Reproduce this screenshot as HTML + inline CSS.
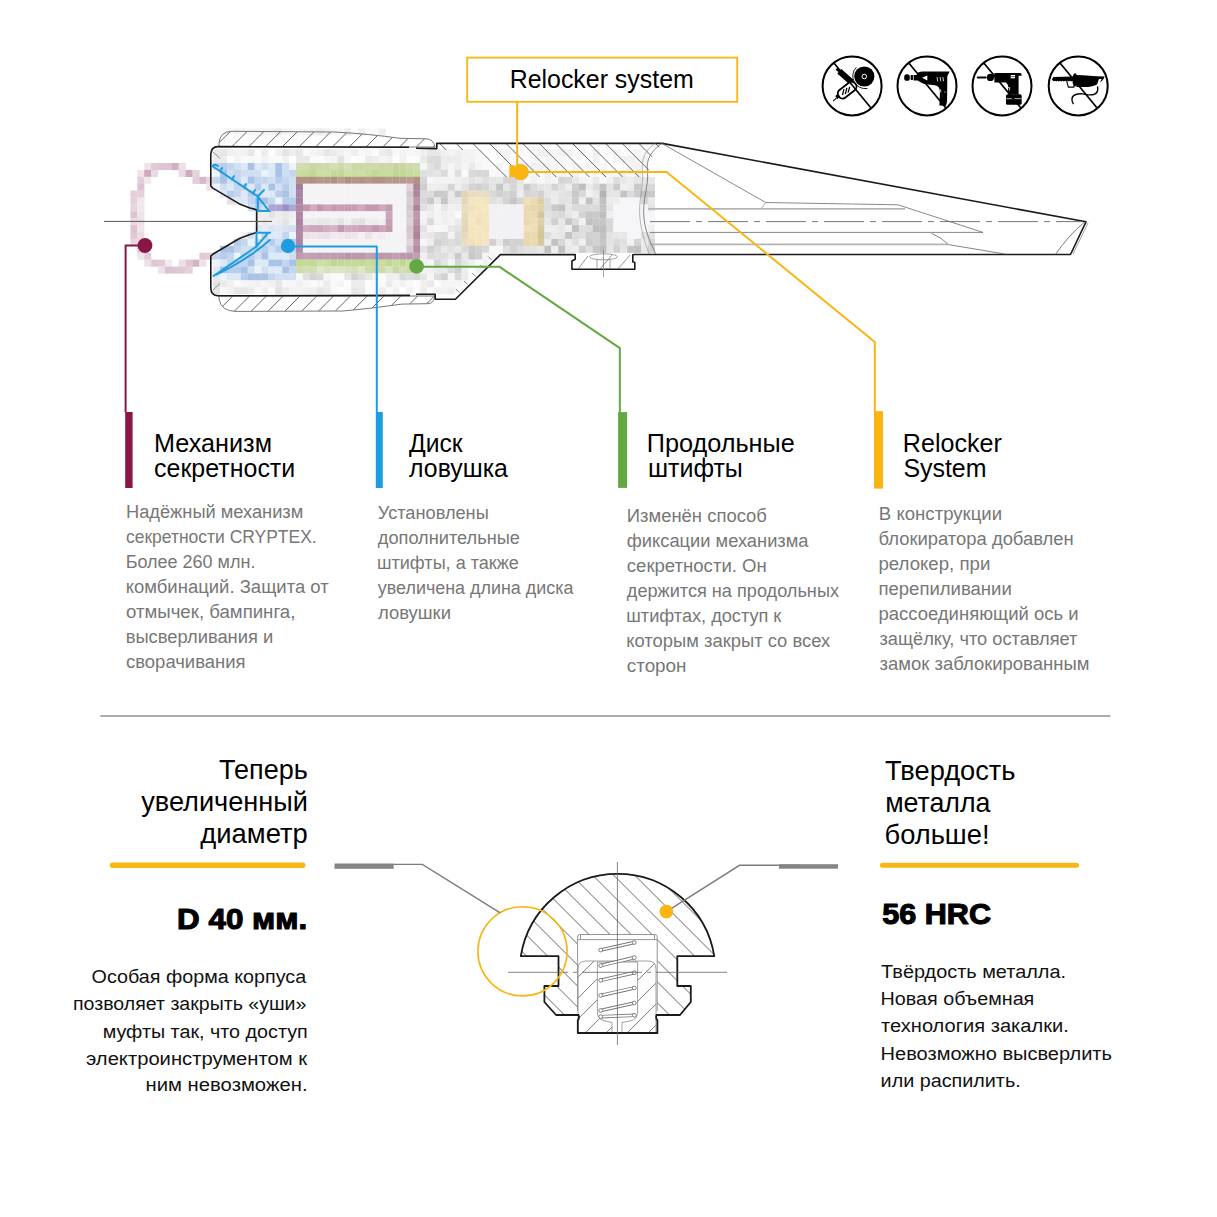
<!DOCTYPE html>
<html><head><meta charset="utf-8"><style>
html,body{margin:0;padding:0;background:#fff;}
#root{position:relative;width:1217px;height:1217px;overflow:hidden;background:#fff;}
svg{position:absolute;left:0;top:0;}
text{font-family:"Liberation Sans",sans-serif;}
</style></head><body><div id="root">
<svg width="1217" height="1217" viewBox="0 0 1217 1217">
<defs>
<clipPath id="capT"><path d="M219,147 L219,143 Q220,131.5 232,131.3 L335,132 Q370,134 400,138.3 L426,138.8 Q433.5,139 435,147 Z"/></clipPath>
<clipPath id="capB"><path d="M219,296 L219,299 Q221,311.3 236,311.4 L343,311 Q372,308.5 402,304.1 L428,303.7 Q433.5,303.6 435,296 Z"/></clipPath>
<clipPath id="rbH"><path d="M437,143.4 L662,143.4 L650,160 L648,177 L497,177 L470,150 L437,150 Z"/></clipPath>
<clipPath id="rbL"><path d="M436,294 L436,299.5 L455.5,299.5 L500.5,254.6 L470,254.6 L440,290 Z"/></clipPath>
</defs>
<g><rect x="213.2" y="149.2" width="7.1" height="7.1" fill="#e9e9ea"/><rect x="220.1" y="149.2" width="7.1" height="7.1" fill="#e6e6e7"/><rect x="227.0" y="149.2" width="7.1" height="7.1" fill="#f0f0f1"/><rect x="233.9" y="149.2" width="7.1" height="7.1" fill="#f3f3f4"/><rect x="240.8" y="149.2" width="7.1" height="7.1" fill="#f2f2f3"/><rect x="247.7" y="149.2" width="7.1" height="7.1" fill="#e7e7e8"/><rect x="254.6" y="149.2" width="7.1" height="7.1" fill="#fbfbfc"/><rect x="261.5" y="149.2" width="7.1" height="7.1" fill="#ececed"/><rect x="268.4" y="149.2" width="7.1" height="7.1" fill="#fdfdfe"/><rect x="275.3" y="149.2" width="7.1" height="7.1" fill="#f1f1f2"/><rect x="282.2" y="149.2" width="7.1" height="7.1" fill="#e5e5e6"/><rect x="289.1" y="149.2" width="7.1" height="7.1" fill="#eeeeef"/><rect x="296.0" y="149.2" width="7.1" height="7.1" fill="#e8e8e9"/><rect x="302.9" y="149.2" width="7.1" height="7.1" fill="#fafafb"/><rect x="309.8" y="149.2" width="7.1" height="7.1" fill="#f5f5f6"/><rect x="316.7" y="149.2" width="7.1" height="7.1" fill="#f0f0f1"/><rect x="323.6" y="149.2" width="7.1" height="7.1" fill="#e6e6e7"/><rect x="330.5" y="149.2" width="7.1" height="7.1" fill="#ebebec"/><rect x="337.4" y="149.2" width="7.1" height="7.1" fill="#f1f1f2"/><rect x="344.3" y="149.2" width="7.1" height="7.1" fill="#f5f5f6"/><rect x="351.2" y="149.2" width="7.1" height="7.1" fill="#eeeeef"/><rect x="358.1" y="149.2" width="7.1" height="7.1" fill="#f8f8f9"/><rect x="365.0" y="149.2" width="7.1" height="7.1" fill="#f5f5f6"/><rect x="371.9" y="149.2" width="7.1" height="7.1" fill="#fcfcfd"/><rect x="378.8" y="149.2" width="7.1" height="7.1" fill="#eeeeef"/><rect x="385.7" y="149.2" width="7.1" height="7.1" fill="#e8e8e9"/><rect x="392.6" y="149.2" width="7.1" height="7.1" fill="#f9f9fa"/><rect x="399.5" y="149.2" width="7.1" height="7.1" fill="#f3f3f4"/><rect x="406.4" y="149.2" width="7.1" height="7.1" fill="#f7f7f8"/><rect x="413.3" y="149.2" width="7.1" height="7.1" fill="#f5f5f6"/><rect x="420.2" y="149.2" width="7.1" height="7.1" fill="#f0f0f1"/><rect x="427.1" y="149.2" width="7.1" height="7.1" fill="#e7e7e8"/><rect x="434.0" y="149.2" width="7.1" height="7.1" fill="#e8e8e9"/><rect x="440.9" y="149.2" width="7.1" height="7.1" fill="#f0f0f1"/><rect x="447.8" y="149.2" width="7.1" height="7.1" fill="#f4f4f5"/><rect x="454.7" y="149.2" width="7.1" height="7.1" fill="#efeff0"/><rect x="461.6" y="149.2" width="7.1" height="7.1" fill="#f2f2f3"/><rect x="468.5" y="149.2" width="7.1" height="7.1" fill="#f4f4f5"/><rect x="475.4" y="149.2" width="7.1" height="7.1" fill="#f7f7f8"/><rect x="482.3" y="149.2" width="7.1" height="7.1" fill="#fcfcfd"/><rect x="489.2" y="149.2" width="7.1" height="7.1" fill="#fdfdfe"/><rect x="496.1" y="149.2" width="7.1" height="7.1" fill="#f4f4f5"/><rect x="503.0" y="149.2" width="7.1" height="7.1" fill="#f4f4f5"/><rect x="509.9" y="149.2" width="7.1" height="7.1" fill="#f9f9fa"/><rect x="516.8" y="149.2" width="7.1" height="7.1" fill="#f9f9fa"/><rect x="523.7" y="149.2" width="7.1" height="7.1" fill="#fbfbfc"/><rect x="530.6" y="149.2" width="7.1" height="7.1" fill="#f6f6f7"/><rect x="537.5" y="149.2" width="7.1" height="7.1" fill="#f0f0f1"/><rect x="544.4" y="149.2" width="7.1" height="7.1" fill="#f0f0f1"/><rect x="551.3" y="149.2" width="7.1" height="7.1" fill="#f6f6f7"/><rect x="558.2" y="149.2" width="7.1" height="7.1" fill="#f2f2f3"/><rect x="565.1" y="149.2" width="7.1" height="7.1" fill="#f2f2f3"/><rect x="572.0" y="149.2" width="7.1" height="7.1" fill="#f8f8f9"/><rect x="578.9" y="149.2" width="7.1" height="7.1" fill="#f4f4f5"/><rect x="585.8" y="149.2" width="7.1" height="7.1" fill="#fdfdfe"/><rect x="592.7" y="149.2" width="7.1" height="7.1" fill="#efeff0"/><rect x="599.6" y="149.2" width="7.1" height="7.1" fill="#fafafb"/><rect x="606.5" y="149.2" width="7.1" height="7.1" fill="#fbfbfc"/><rect x="613.4" y="149.2" width="7.1" height="7.1" fill="#f4f4f5"/><rect x="620.3" y="149.2" width="7.1" height="7.1" fill="#fcfcfd"/><rect x="627.2" y="149.2" width="7.1" height="7.1" fill="#f8f8f9"/><rect x="634.1" y="149.2" width="7.1" height="7.1" fill="#f5f5f6"/><rect x="641.0" y="149.2" width="7.1" height="7.1" fill="#f7f7f8"/><rect x="213.2" y="156.1" width="7.1" height="7.1" fill="#ececed"/><rect x="220.1" y="156.1" width="7.1" height="7.1" fill="#ebebec"/><rect x="227.0" y="156.1" width="7.1" height="7.1" fill="#fcfcfd"/><rect x="233.9" y="156.1" width="7.1" height="7.1" fill="#f3f3f4"/><rect x="240.8" y="156.1" width="7.1" height="7.1" fill="#fafafb"/><rect x="247.7" y="156.1" width="7.1" height="7.1" fill="#f7f7f8"/><rect x="254.6" y="156.1" width="7.1" height="7.1" fill="#fafafb"/><rect x="261.5" y="156.1" width="7.1" height="7.1" fill="#f3f3f4"/><rect x="268.4" y="156.1" width="7.1" height="7.1" fill="#fafafb"/><rect x="275.3" y="156.1" width="7.1" height="7.1" fill="#fafafb"/><rect x="282.2" y="156.1" width="7.1" height="7.1" fill="#f1f1f2"/><rect x="289.1" y="156.1" width="7.1" height="7.1" fill="#fdfdfe"/><rect x="296.0" y="156.1" width="7.1" height="7.1" fill="#eaeaeb"/><rect x="302.9" y="156.1" width="7.1" height="7.1" fill="#e9e9ea"/><rect x="309.8" y="156.1" width="7.1" height="7.1" fill="#fafafb"/><rect x="316.7" y="156.1" width="7.1" height="7.1" fill="#fbfbfc"/><rect x="323.6" y="156.1" width="7.1" height="7.1" fill="#f7f7f8"/><rect x="330.5" y="156.1" width="7.1" height="7.1" fill="#f4f4f5"/><rect x="337.4" y="156.1" width="7.1" height="7.1" fill="#e3e3e4"/><rect x="344.3" y="156.1" width="7.1" height="7.1" fill="#f7f7f8"/><rect x="351.2" y="156.1" width="7.1" height="7.1" fill="#fdfdfe"/><rect x="358.1" y="156.1" width="7.1" height="7.1" fill="#fbfbfc"/><rect x="365.0" y="156.1" width="7.1" height="7.1" fill="#ebebec"/><rect x="371.9" y="156.1" width="7.1" height="7.1" fill="#eeeeef"/><rect x="378.8" y="156.1" width="7.1" height="7.1" fill="#f5f5f6"/><rect x="385.7" y="156.1" width="7.1" height="7.1" fill="#f1f1f2"/><rect x="392.6" y="156.1" width="7.1" height="7.1" fill="#fcfcfd"/><rect x="399.5" y="156.1" width="7.1" height="7.1" fill="#f2f2f3"/><rect x="406.4" y="156.1" width="7.1" height="7.1" fill="#fcfcfd"/><rect x="413.3" y="156.1" width="7.1" height="7.1" fill="#fcfcfd"/><rect x="420.2" y="156.1" width="7.1" height="7.1" fill="#eaeaeb"/><rect x="427.1" y="156.1" width="7.1" height="7.1" fill="#dbdbdc"/><rect x="434.0" y="156.1" width="7.1" height="7.1" fill="#dbdbdc"/><rect x="440.9" y="156.1" width="7.1" height="7.1" fill="#ebebec"/><rect x="447.8" y="156.1" width="7.1" height="7.1" fill="#ebebec"/><rect x="454.7" y="156.1" width="7.1" height="7.1" fill="#ebebec"/><rect x="461.6" y="156.1" width="7.1" height="7.1" fill="#f3f3f4"/><rect x="468.5" y="156.1" width="7.1" height="7.1" fill="#f2f2f3"/><rect x="475.4" y="156.1" width="7.1" height="7.1" fill="#f8f8f9"/><rect x="482.3" y="156.1" width="7.1" height="7.1" fill="#f8f8f9"/><rect x="489.2" y="156.1" width="7.1" height="7.1" fill="#fdfdfe"/><rect x="496.1" y="156.1" width="7.1" height="7.1" fill="#fdfdfe"/><rect x="503.0" y="156.1" width="7.1" height="7.1" fill="#f7f7f8"/><rect x="509.9" y="156.1" width="7.1" height="7.1" fill="#fafafb"/><rect x="516.8" y="156.1" width="7.1" height="7.1" fill="#fbfbfc"/><rect x="523.7" y="156.1" width="7.1" height="7.1" fill="#fefeff"/><rect x="530.6" y="156.1" width="7.1" height="7.1" fill="#f8f8f9"/><rect x="537.5" y="156.1" width="7.1" height="7.1" fill="#f7f7f8"/><rect x="544.4" y="156.1" width="7.1" height="7.1" fill="#f5f5f6"/><rect x="551.3" y="156.1" width="7.1" height="7.1" fill="#f7f7f8"/><rect x="558.2" y="156.1" width="7.1" height="7.1" fill="#f8f8f9"/><rect x="565.1" y="156.1" width="7.1" height="7.1" fill="#fefeff"/><rect x="572.0" y="156.1" width="7.1" height="7.1" fill="#fbfbfc"/><rect x="578.9" y="156.1" width="7.1" height="7.1" fill="#fdfdfe"/><rect x="585.8" y="156.1" width="7.1" height="7.1" fill="#fdfdfe"/><rect x="592.7" y="156.1" width="7.1" height="7.1" fill="#f0f0f1"/><rect x="599.6" y="156.1" width="7.1" height="7.1" fill="#fdfdfe"/><rect x="606.5" y="156.1" width="7.1" height="7.1" fill="#fcfcfd"/><rect x="613.4" y="156.1" width="7.1" height="7.1" fill="#f6f6f7"/><rect x="620.3" y="156.1" width="7.1" height="7.1" fill="#f2f2f3"/><rect x="627.2" y="156.1" width="7.1" height="7.1" fill="#f2f2f3"/><rect x="634.1" y="156.1" width="7.1" height="7.1" fill="#f5f5f6"/><rect x="641.0" y="156.1" width="7.1" height="7.1" fill="#f3f3f4"/><rect x="144.2" y="163.0" width="7.1" height="7.1" fill="#efe2e9"/><rect x="151.1" y="163.0" width="7.1" height="7.1" fill="#e1c9d6"/><rect x="158.0" y="163.0" width="7.1" height="7.1" fill="#dfc6d4"/><rect x="164.9" y="163.0" width="7.1" height="7.1" fill="#dec5d3"/><rect x="171.8" y="163.0" width="7.1" height="7.1" fill="#d2aec2"/><rect x="178.7" y="163.0" width="7.1" height="7.1" fill="#eddfe6"/><rect x="213.2" y="163.0" width="7.1" height="7.1" fill="#c3d6ee"/><rect x="220.1" y="163.0" width="7.1" height="7.1" fill="#b6cdeb"/><rect x="227.0" y="163.0" width="7.1" height="7.1" fill="#c3d6ee"/><rect x="233.9" y="163.0" width="7.1" height="7.1" fill="#d0dff2"/><rect x="240.8" y="163.0" width="7.1" height="7.1" fill="#dee9f7"/><rect x="247.7" y="163.0" width="7.1" height="7.1" fill="#a8c3e6"/><rect x="254.6" y="163.0" width="7.1" height="7.1" fill="#dee9f7"/><rect x="261.5" y="163.0" width="7.1" height="7.1" fill="#d0dff2"/><rect x="268.4" y="163.0" width="7.1" height="7.1" fill="#dee9f7"/><rect x="275.3" y="163.0" width="7.1" height="7.1" fill="#a8c3e6"/><rect x="282.2" y="163.0" width="7.1" height="7.1" fill="#d0dff2"/><rect x="289.1" y="163.0" width="7.1" height="7.1" fill="#edf3fb"/><rect x="296.0" y="163.0" width="7.1" height="7.1" fill="#d4dcb4"/><rect x="302.9" y="163.0" width="7.1" height="7.1" fill="#d1dbb0"/><rect x="309.8" y="163.0" width="7.1" height="7.1" fill="#cbd6a6"/><rect x="316.7" y="163.0" width="7.1" height="7.1" fill="#ced9ab"/><rect x="323.6" y="163.0" width="7.1" height="7.1" fill="#ced8ab"/><rect x="330.5" y="163.0" width="7.1" height="7.1" fill="#d5deb7"/><rect x="337.4" y="163.0" width="7.1" height="7.1" fill="#d0d9ad"/><rect x="344.3" y="163.0" width="7.1" height="7.1" fill="#d6deb7"/><rect x="351.2" y="163.0" width="7.1" height="7.1" fill="#cdd8a9"/><rect x="358.1" y="163.0" width="7.1" height="7.1" fill="#cdd8a9"/><rect x="365.0" y="163.0" width="7.1" height="7.1" fill="#cfd9ac"/><rect x="371.9" y="163.0" width="7.1" height="7.1" fill="#cfd9ac"/><rect x="378.8" y="163.0" width="7.1" height="7.1" fill="#ccd7a6"/><rect x="385.7" y="163.0" width="7.1" height="7.1" fill="#ced8aa"/><rect x="392.6" y="163.0" width="7.1" height="7.1" fill="#c8d4a1"/><rect x="399.5" y="163.0" width="7.1" height="7.1" fill="#cbd6a6"/><rect x="406.4" y="163.0" width="7.1" height="7.1" fill="#cfd9ad"/><rect x="413.3" y="163.0" width="7.1" height="7.1" fill="#d1dbb0"/><rect x="420.2" y="163.0" width="7.1" height="7.1" fill="#f6f6f7"/><rect x="427.1" y="163.0" width="7.1" height="7.1" fill="#e2e2e3"/><rect x="434.0" y="163.0" width="7.1" height="7.1" fill="#dadadb"/><rect x="440.9" y="163.0" width="7.1" height="7.1" fill="#eeeeef"/><rect x="447.8" y="163.0" width="7.1" height="7.1" fill="#f5f5f6"/><rect x="454.7" y="163.0" width="7.1" height="7.1" fill="#eeeeef"/><rect x="461.6" y="163.0" width="7.1" height="7.1" fill="#f4f4f5"/><rect x="468.5" y="163.0" width="7.1" height="7.1" fill="#eaeaeb"/><rect x="475.4" y="163.0" width="7.1" height="7.1" fill="#f5f5f6"/><rect x="482.3" y="163.0" width="7.1" height="7.1" fill="#f9f9fa"/><rect x="489.2" y="163.0" width="7.1" height="7.1" fill="#fafafb"/><rect x="496.1" y="163.0" width="7.1" height="7.1" fill="#f2f2f3"/><rect x="503.0" y="163.0" width="7.1" height="7.1" fill="#fcfcfd"/><rect x="509.9" y="163.0" width="7.1" height="7.1" fill="#fafafb"/><rect x="516.8" y="163.0" width="7.1" height="7.1" fill="#eeeeef"/><rect x="523.7" y="163.0" width="7.1" height="7.1" fill="#f8f8f9"/><rect x="530.6" y="163.0" width="7.1" height="7.1" fill="#f0f0f1"/><rect x="537.5" y="163.0" width="7.1" height="7.1" fill="#f1f1f2"/><rect x="544.4" y="163.0" width="7.1" height="7.1" fill="#f3f3f4"/><rect x="551.3" y="163.0" width="7.1" height="7.1" fill="#f8f8f9"/><rect x="558.2" y="163.0" width="7.1" height="7.1" fill="#fafafb"/><rect x="565.1" y="163.0" width="7.1" height="7.1" fill="#fafafb"/><rect x="572.0" y="163.0" width="7.1" height="7.1" fill="#f4f4f5"/><rect x="578.9" y="163.0" width="7.1" height="7.1" fill="#f9f9fa"/><rect x="585.8" y="163.0" width="7.1" height="7.1" fill="#f4f4f5"/><rect x="592.7" y="163.0" width="7.1" height="7.1" fill="#fafafb"/><rect x="599.6" y="163.0" width="7.1" height="7.1" fill="#f7f7f8"/><rect x="606.5" y="163.0" width="7.1" height="7.1" fill="#fdfdfe"/><rect x="613.4" y="163.0" width="7.1" height="7.1" fill="#fdfdfe"/><rect x="620.3" y="163.0" width="7.1" height="7.1" fill="#fcfcfd"/><rect x="627.2" y="163.0" width="7.1" height="7.1" fill="#f4f4f5"/><rect x="634.1" y="163.0" width="7.1" height="7.1" fill="#f3f3f4"/><rect x="641.0" y="163.0" width="7.1" height="7.1" fill="#f8f8f9"/><rect x="137.3" y="169.9" width="7.1" height="7.1" fill="#f0e3ea"/><rect x="144.2" y="169.9" width="7.1" height="7.1" fill="#cfa9be"/><rect x="151.1" y="169.9" width="7.1" height="7.1" fill="#ead9e2"/><rect x="178.7" y="169.9" width="7.1" height="7.1" fill="#ead9e2"/><rect x="185.6" y="169.9" width="7.1" height="7.1" fill="#cfaabe"/><rect x="192.5" y="169.9" width="7.1" height="7.1" fill="#e6d2dd"/><rect x="213.2" y="169.9" width="7.1" height="7.1" fill="#edf3fb"/><rect x="220.1" y="169.9" width="7.1" height="7.1" fill="#a8c3e6"/><rect x="227.0" y="169.9" width="7.1" height="7.1" fill="#d0dff2"/><rect x="233.9" y="169.9" width="7.1" height="7.1" fill="#c3d6ee"/><rect x="240.8" y="169.9" width="7.1" height="7.1" fill="#d0dff2"/><rect x="247.7" y="169.9" width="7.1" height="7.1" fill="#d0dff2"/><rect x="254.6" y="169.9" width="7.1" height="7.1" fill="#d0dff2"/><rect x="261.5" y="169.9" width="7.1" height="7.1" fill="#edf3fb"/><rect x="268.4" y="169.9" width="7.1" height="7.1" fill="#dee9f7"/><rect x="275.3" y="169.9" width="7.1" height="7.1" fill="#a8c3e6"/><rect x="282.2" y="169.9" width="7.1" height="7.1" fill="#d0dff2"/><rect x="289.1" y="169.9" width="7.1" height="7.1" fill="#c3d6ee"/><rect x="296.0" y="169.9" width="7.1" height="7.1" fill="#c8dd9e"/><rect x="302.9" y="169.9" width="7.1" height="7.1" fill="#c6db9b"/><rect x="309.8" y="169.9" width="7.1" height="7.1" fill="#c1d893"/><rect x="316.7" y="169.9" width="7.1" height="7.1" fill="#ccdfa3"/><rect x="323.6" y="169.9" width="7.1" height="7.1" fill="#cddfa5"/><rect x="330.5" y="169.9" width="7.1" height="7.1" fill="#c4da97"/><rect x="337.4" y="169.9" width="7.1" height="7.1" fill="#c3da96"/><rect x="344.3" y="169.9" width="7.1" height="7.1" fill="#cde0a5"/><rect x="351.2" y="169.9" width="7.1" height="7.1" fill="#cbdea2"/><rect x="358.1" y="169.9" width="7.1" height="7.1" fill="#cddfa4"/><rect x="365.0" y="169.9" width="7.1" height="7.1" fill="#c8dc9d"/><rect x="371.9" y="169.9" width="7.1" height="7.1" fill="#c1d893"/><rect x="378.8" y="169.9" width="7.1" height="7.1" fill="#c6dc9b"/><rect x="385.7" y="169.9" width="7.1" height="7.1" fill="#c9dd9f"/><rect x="392.6" y="169.9" width="7.1" height="7.1" fill="#c1d893"/><rect x="399.5" y="169.9" width="7.1" height="7.1" fill="#c2d995"/><rect x="406.4" y="169.9" width="7.1" height="7.1" fill="#c5db99"/><rect x="413.3" y="169.9" width="7.1" height="7.1" fill="#cadea1"/><rect x="420.2" y="169.9" width="7.1" height="7.1" fill="#dfdfe0"/><rect x="427.1" y="169.9" width="7.1" height="7.1" fill="#e1e1e2"/><rect x="434.0" y="169.9" width="7.1" height="7.1" fill="#e5e5e6"/><rect x="440.9" y="169.9" width="7.1" height="7.1" fill="#dadadb"/><rect x="447.8" y="169.9" width="7.1" height="7.1" fill="#f7f7f8"/><rect x="454.7" y="169.9" width="7.1" height="7.1" fill="#ddddde"/><rect x="461.6" y="169.9" width="7.1" height="7.1" fill="#fafafb"/><rect x="468.5" y="169.9" width="7.1" height="7.1" fill="#d9d9da"/><rect x="475.4" y="169.9" width="7.1" height="7.1" fill="#d6d6d7"/><rect x="482.3" y="169.9" width="7.1" height="7.1" fill="#d6d6d7"/><rect x="489.2" y="169.9" width="7.1" height="7.1" fill="#f9f9fa"/><rect x="496.1" y="169.9" width="7.1" height="7.1" fill="#f7f7f8"/><rect x="503.0" y="169.9" width="7.1" height="7.1" fill="#f6f6f7"/><rect x="509.9" y="169.9" width="7.1" height="7.1" fill="#f5f5f6"/><rect x="516.8" y="169.9" width="7.1" height="7.1" fill="#f8f8f9"/><rect x="523.7" y="169.9" width="7.1" height="7.1" fill="#f3f3f4"/><rect x="530.6" y="169.9" width="7.1" height="7.1" fill="#f6f6f7"/><rect x="537.5" y="169.9" width="7.1" height="7.1" fill="#fcfcfd"/><rect x="544.4" y="169.9" width="7.1" height="7.1" fill="#efeff0"/><rect x="551.3" y="169.9" width="7.1" height="7.1" fill="#f7f7f8"/><rect x="558.2" y="169.9" width="7.1" height="7.1" fill="#f6f6f7"/><rect x="565.1" y="169.9" width="7.1" height="7.1" fill="#fcfcfd"/><rect x="572.0" y="169.9" width="7.1" height="7.1" fill="#f1f1f2"/><rect x="578.9" y="169.9" width="7.1" height="7.1" fill="#fafafb"/><rect x="585.8" y="169.9" width="7.1" height="7.1" fill="#fafafb"/><rect x="592.7" y="169.9" width="7.1" height="7.1" fill="#f9f9fa"/><rect x="599.6" y="169.9" width="7.1" height="7.1" fill="#f4f4f5"/><rect x="606.5" y="169.9" width="7.1" height="7.1" fill="#f5f5f6"/><rect x="613.4" y="169.9" width="7.1" height="7.1" fill="#fafafb"/><rect x="620.3" y="169.9" width="7.1" height="7.1" fill="#f0f0f1"/><rect x="627.2" y="169.9" width="7.1" height="7.1" fill="#f6f6f7"/><rect x="634.1" y="169.9" width="7.1" height="7.1" fill="#efeff0"/><rect x="641.0" y="169.9" width="7.1" height="7.1" fill="#fefeff"/><rect x="137.3" y="176.8" width="7.1" height="7.1" fill="#e3cdd9"/><rect x="144.2" y="176.8" width="7.1" height="7.1" fill="#f2e8ed"/><rect x="192.5" y="176.8" width="7.1" height="7.1" fill="#e3ceda"/><rect x="199.4" y="176.8" width="7.1" height="7.1" fill="#d7b7c9"/><rect x="206.3" y="176.8" width="7.1" height="7.1" fill="#e6d3dd"/><rect x="213.2" y="176.8" width="7.1" height="7.1" fill="#c3d6ee"/><rect x="220.1" y="176.8" width="7.1" height="7.1" fill="#a8c3e6"/><rect x="227.0" y="176.8" width="7.1" height="7.1" fill="#d0dff2"/><rect x="233.9" y="176.8" width="7.1" height="7.1" fill="#c3d6ee"/><rect x="240.8" y="176.8" width="7.1" height="7.1" fill="#dee9f7"/><rect x="247.7" y="176.8" width="7.1" height="7.1" fill="#a8c3e6"/><rect x="254.6" y="176.8" width="7.1" height="7.1" fill="#c3d6ee"/><rect x="261.5" y="176.8" width="7.1" height="7.1" fill="#c3d6ee"/><rect x="268.4" y="176.8" width="7.1" height="7.1" fill="#d0dff2"/><rect x="275.3" y="176.8" width="7.1" height="7.1" fill="#b6cdeb"/><rect x="282.2" y="176.8" width="7.1" height="7.1" fill="#c3d6ee"/><rect x="289.1" y="176.8" width="7.1" height="7.1" fill="#d0dff2"/><rect x="296.0" y="176.8" width="7.1" height="7.1" fill="#b29285"/><rect x="302.9" y="176.8" width="7.1" height="7.1" fill="#b39386"/><rect x="309.8" y="176.8" width="7.1" height="7.1" fill="#b19184"/><rect x="316.7" y="176.8" width="7.1" height="7.1" fill="#b6978b"/><rect x="323.6" y="176.8" width="7.1" height="7.1" fill="#b59689"/><rect x="330.5" y="176.8" width="7.1" height="7.1" fill="#b19183"/><rect x="337.4" y="176.8" width="7.1" height="7.1" fill="#b99b8f"/><rect x="344.3" y="176.8" width="7.1" height="7.1" fill="#b09082"/><rect x="351.2" y="176.8" width="7.1" height="7.1" fill="#b49588"/><rect x="358.1" y="176.8" width="7.1" height="7.1" fill="#b29285"/><rect x="365.0" y="176.8" width="7.1" height="7.1" fill="#b7998c"/><rect x="371.9" y="176.8" width="7.1" height="7.1" fill="#b19184"/><rect x="378.8" y="176.8" width="7.1" height="7.1" fill="#b29284"/><rect x="385.7" y="176.8" width="7.1" height="7.1" fill="#b7988b"/><rect x="392.6" y="176.8" width="7.1" height="7.1" fill="#b59689"/><rect x="399.5" y="176.8" width="7.1" height="7.1" fill="#b7998c"/><rect x="406.4" y="176.8" width="7.1" height="7.1" fill="#ba9c90"/><rect x="413.3" y="176.8" width="7.1" height="7.1" fill="#b19184"/><rect x="420.2" y="176.8" width="7.1" height="7.1" fill="#d6d6d7"/><rect x="427.1" y="176.8" width="7.1" height="7.1" fill="#f6f6f7"/><rect x="434.0" y="176.8" width="7.1" height="7.1" fill="#f2f2f3"/><rect x="440.9" y="176.8" width="7.1" height="7.1" fill="#f3f3f4"/><rect x="447.8" y="176.8" width="7.1" height="7.1" fill="#f4f4f5"/><rect x="454.7" y="176.8" width="7.1" height="7.1" fill="#f0f0f1"/><rect x="461.6" y="176.8" width="7.1" height="7.1" fill="#ebebec"/><rect x="468.5" y="176.8" width="7.1" height="7.1" fill="#e2e2e3"/><rect x="475.4" y="176.8" width="7.1" height="7.1" fill="#e8e8e9"/><rect x="482.3" y="176.8" width="7.1" height="7.1" fill="#dfdfe0"/><rect x="489.2" y="176.8" width="7.1" height="7.1" fill="#e5e5e6"/><rect x="496.1" y="176.8" width="7.1" height="7.1" fill="#e8e8e9"/><rect x="503.0" y="176.8" width="7.1" height="7.1" fill="#d4d4d5"/><rect x="509.9" y="176.8" width="7.1" height="7.1" fill="#d4d4d5"/><rect x="516.8" y="176.8" width="7.1" height="7.1" fill="#e4e4e5"/><rect x="523.7" y="176.8" width="7.1" height="7.1" fill="#f9f9fa"/><rect x="530.6" y="176.8" width="7.1" height="7.1" fill="#f2f2f3"/><rect x="537.5" y="176.8" width="7.1" height="7.1" fill="#f8f8f9"/><rect x="544.4" y="176.8" width="7.1" height="7.1" fill="#f1f1f2"/><rect x="551.3" y="176.8" width="7.1" height="7.1" fill="#f4f4f5"/><rect x="558.2" y="176.8" width="7.1" height="7.1" fill="#d5d5d6"/><rect x="565.1" y="176.8" width="7.1" height="7.1" fill="#d7d7d8"/><rect x="572.0" y="176.8" width="7.1" height="7.1" fill="#e8e8e9"/><rect x="578.9" y="176.8" width="7.1" height="7.1" fill="#f3f3f4"/><rect x="585.8" y="176.8" width="7.1" height="7.1" fill="#f4f4f5"/><rect x="592.7" y="176.8" width="7.1" height="7.1" fill="#e9e9ea"/><rect x="599.6" y="176.8" width="7.1" height="7.1" fill="#f8f8f9"/><rect x="606.5" y="176.8" width="7.1" height="7.1" fill="#f0f0f1"/><rect x="613.4" y="176.8" width="7.1" height="7.1" fill="#dededf"/><rect x="620.3" y="176.8" width="7.1" height="7.1" fill="#e8e8e9"/><rect x="627.2" y="176.8" width="7.1" height="7.1" fill="#ededee"/><rect x="634.1" y="176.8" width="7.1" height="7.1" fill="#e5e5e6"/><rect x="641.0" y="176.8" width="7.1" height="7.1" fill="#e5e5e6"/><rect x="647.9" y="176.8" width="7.1" height="7.1" fill="#e8e8e9"/><rect x="137.3" y="183.7" width="7.1" height="7.1" fill="#ddc2d1"/><rect x="206.3" y="183.7" width="7.1" height="7.1" fill="#f0e4ea"/><rect x="213.2" y="183.7" width="7.1" height="7.1" fill="#edf3fb"/><rect x="220.1" y="183.7" width="7.1" height="7.1" fill="#d0dff2"/><rect x="227.0" y="183.7" width="7.1" height="7.1" fill="#dee9f7"/><rect x="233.9" y="183.7" width="7.1" height="7.1" fill="#c3d6ee"/><rect x="240.8" y="183.7" width="7.1" height="7.1" fill="#c3d6ee"/><rect x="247.7" y="183.7" width="7.1" height="7.1" fill="#dee9f7"/><rect x="254.6" y="183.7" width="7.1" height="7.1" fill="#b6cdeb"/><rect x="261.5" y="183.7" width="7.1" height="7.1" fill="#dee9f7"/><rect x="268.4" y="183.7" width="7.1" height="7.1" fill="#a8c3e6"/><rect x="275.3" y="183.7" width="7.1" height="7.1" fill="#d0dff2"/><rect x="282.2" y="183.7" width="7.1" height="7.1" fill="#b6cdeb"/><rect x="289.1" y="183.7" width="7.1" height="7.1" fill="#d0dff2"/><rect x="296.0" y="183.7" width="7.1" height="7.1" fill="#a47c9f"/><rect x="302.9" y="183.7" width="7.1" height="7.1" fill="#f4f4f7"/><rect x="309.8" y="183.7" width="7.1" height="7.1" fill="#f4f4f7"/><rect x="316.7" y="183.7" width="7.1" height="7.1" fill="#f4f4f7"/><rect x="323.6" y="183.7" width="7.1" height="7.1" fill="#f4f4f7"/><rect x="330.5" y="183.7" width="7.1" height="7.1" fill="#f4f4f7"/><rect x="337.4" y="183.7" width="7.1" height="7.1" fill="#f4f4f7"/><rect x="344.3" y="183.7" width="7.1" height="7.1" fill="#f4f4f7"/><rect x="351.2" y="183.7" width="7.1" height="7.1" fill="#f4f4f7"/><rect x="358.1" y="183.7" width="7.1" height="7.1" fill="#f4f4f7"/><rect x="365.0" y="183.7" width="7.1" height="7.1" fill="#f4f4f7"/><rect x="371.9" y="183.7" width="7.1" height="7.1" fill="#f4f4f7"/><rect x="378.8" y="183.7" width="7.1" height="7.1" fill="#f4f4f7"/><rect x="385.7" y="183.7" width="7.1" height="7.1" fill="#f4f4f7"/><rect x="392.6" y="183.7" width="7.1" height="7.1" fill="#f4f4f7"/><rect x="399.5" y="183.7" width="7.1" height="7.1" fill="#f4f4f7"/><rect x="406.4" y="183.7" width="7.1" height="7.1" fill="#e0d3db"/><rect x="413.3" y="183.7" width="7.1" height="7.1" fill="#ad8599"/><rect x="420.2" y="183.7" width="7.1" height="7.1" fill="#cececf"/><rect x="427.1" y="183.7" width="7.1" height="7.1" fill="#efeff0"/><rect x="434.0" y="183.7" width="7.1" height="7.1" fill="#eeeeef"/><rect x="440.9" y="183.7" width="7.1" height="7.1" fill="#ececed"/><rect x="447.8" y="183.7" width="7.1" height="7.1" fill="#d5d5d6"/><rect x="454.7" y="183.7" width="7.1" height="7.1" fill="#eeeeef"/><rect x="461.6" y="183.7" width="7.1" height="7.1" fill="#e3e3e4"/><rect x="468.5" y="183.7" width="7.1" height="7.1" fill="#d3d3d4"/><rect x="475.4" y="183.7" width="7.1" height="7.1" fill="#cfcfd0"/><rect x="482.3" y="183.7" width="7.1" height="7.1" fill="#d5d5d6"/><rect x="489.2" y="183.7" width="7.1" height="7.1" fill="#e5e5e6"/><rect x="496.1" y="183.7" width="7.1" height="7.1" fill="#c6c6c7"/><rect x="503.0" y="183.7" width="7.1" height="7.1" fill="#e6e6e7"/><rect x="509.9" y="183.7" width="7.1" height="7.1" fill="#d7d7d8"/><rect x="516.8" y="183.7" width="7.1" height="7.1" fill="#e9e9ea"/><rect x="523.7" y="183.7" width="7.1" height="7.1" fill="#cacacb"/><rect x="530.6" y="183.7" width="7.1" height="7.1" fill="#dbdbdc"/><rect x="537.5" y="183.7" width="7.1" height="7.1" fill="#e4e4e5"/><rect x="544.4" y="183.7" width="7.1" height="7.1" fill="#e6e6e7"/><rect x="551.3" y="183.7" width="7.1" height="7.1" fill="#d5d5d6"/><rect x="558.2" y="183.7" width="7.1" height="7.1" fill="#e1e1e2"/><rect x="565.1" y="183.7" width="7.1" height="7.1" fill="#ededee"/><rect x="572.0" y="183.7" width="7.1" height="7.1" fill="#cfcfd0"/><rect x="578.9" y="183.7" width="7.1" height="7.1" fill="#bfbfc0"/><rect x="585.8" y="183.7" width="7.1" height="7.1" fill="#ebebec"/><rect x="592.7" y="183.7" width="7.1" height="7.1" fill="#dcdcdd"/><rect x="599.6" y="183.7" width="7.1" height="7.1" fill="#c2c2c3"/><rect x="606.5" y="183.7" width="7.1" height="7.1" fill="#e3e3e4"/><rect x="613.4" y="183.7" width="7.1" height="7.1" fill="#cccccd"/><rect x="620.3" y="183.7" width="7.1" height="7.1" fill="#efeff0"/><rect x="627.2" y="183.7" width="7.1" height="7.1" fill="#ebebec"/><rect x="634.1" y="183.7" width="7.1" height="7.1" fill="#cacacb"/><rect x="641.0" y="183.7" width="7.1" height="7.1" fill="#ddddde"/><rect x="647.9" y="183.7" width="7.1" height="7.1" fill="#d9d9da"/><rect x="130.4" y="190.6" width="7.1" height="7.1" fill="#e4ceda"/><rect x="137.3" y="190.6" width="7.1" height="7.1" fill="#e5d1dc"/><rect x="220.1" y="190.6" width="7.1" height="7.1" fill="#dee9f7"/><rect x="227.0" y="190.6" width="7.1" height="7.1" fill="#b6cdeb"/><rect x="233.9" y="190.6" width="7.1" height="7.1" fill="#c3d6ee"/><rect x="240.8" y="190.6" width="7.1" height="7.1" fill="#dee9f7"/><rect x="247.7" y="190.6" width="7.1" height="7.1" fill="#b6cdeb"/><rect x="254.6" y="190.6" width="7.1" height="7.1" fill="#d0dff2"/><rect x="261.5" y="190.6" width="7.1" height="7.1" fill="#dee9f7"/><rect x="268.4" y="190.6" width="7.1" height="7.1" fill="#dee9f7"/><rect x="275.3" y="190.6" width="7.1" height="7.1" fill="#b6cdeb"/><rect x="282.2" y="190.6" width="7.1" height="7.1" fill="#a8c3e6"/><rect x="289.1" y="190.6" width="7.1" height="7.1" fill="#d0dff2"/><rect x="296.0" y="190.6" width="7.1" height="7.1" fill="#ab84a4"/><rect x="302.9" y="190.6" width="7.1" height="7.1" fill="#f4f4f7"/><rect x="309.8" y="190.6" width="7.1" height="7.1" fill="#f4f4f7"/><rect x="316.7" y="190.6" width="7.1" height="7.1" fill="#f4f4f7"/><rect x="323.6" y="190.6" width="7.1" height="7.1" fill="#f4f4f7"/><rect x="330.5" y="190.6" width="7.1" height="7.1" fill="#f4f4f7"/><rect x="337.4" y="190.6" width="7.1" height="7.1" fill="#f4f4f7"/><rect x="344.3" y="190.6" width="7.1" height="7.1" fill="#f4f4f7"/><rect x="351.2" y="190.6" width="7.1" height="7.1" fill="#f4f4f7"/><rect x="358.1" y="190.6" width="7.1" height="7.1" fill="#f4f4f7"/><rect x="365.0" y="190.6" width="7.1" height="7.1" fill="#f4f4f7"/><rect x="371.9" y="190.6" width="7.1" height="7.1" fill="#f4f4f7"/><rect x="378.8" y="190.6" width="7.1" height="7.1" fill="#f4f4f7"/><rect x="385.7" y="190.6" width="7.1" height="7.1" fill="#f4f4f7"/><rect x="392.6" y="190.6" width="7.1" height="7.1" fill="#f4f4f7"/><rect x="399.5" y="190.6" width="7.1" height="7.1" fill="#f4f4f7"/><rect x="406.4" y="190.6" width="7.1" height="7.1" fill="#d7c7d1"/><rect x="413.3" y="190.6" width="7.1" height="7.1" fill="#ae879a"/><rect x="420.2" y="190.6" width="7.1" height="7.1" fill="#dcdcdd"/><rect x="427.1" y="190.6" width="7.1" height="7.1" fill="#ddddde"/><rect x="434.0" y="190.6" width="7.1" height="7.1" fill="#c9c9ca"/><rect x="440.9" y="190.6" width="7.1" height="7.1" fill="#cccccd"/><rect x="447.8" y="190.6" width="7.1" height="7.1" fill="#e9e9ea"/><rect x="454.7" y="190.6" width="7.1" height="7.1" fill="#cacacb"/><rect x="461.6" y="190.6" width="7.1" height="7.1" fill="#e3d5b6"/><rect x="468.5" y="190.6" width="7.1" height="7.1" fill="#e9dcc1"/><rect x="475.4" y="190.6" width="7.1" height="7.1" fill="#eadec3"/><rect x="482.3" y="190.6" width="7.1" height="7.1" fill="#e9ddc3"/><rect x="489.2" y="190.6" width="7.1" height="7.1" fill="#d9d9da"/><rect x="496.1" y="190.6" width="7.1" height="7.1" fill="#d0d0d1"/><rect x="503.0" y="190.6" width="7.1" height="7.1" fill="#d6d6d7"/><rect x="509.9" y="190.6" width="7.1" height="7.1" fill="#cfcfd0"/><rect x="516.8" y="190.6" width="7.1" height="7.1" fill="#eeeeef"/><rect x="523.7" y="190.6" width="7.1" height="7.1" fill="#d5d5d6"/><rect x="530.6" y="190.6" width="7.1" height="7.1" fill="#d8d8d9"/><rect x="537.5" y="190.6" width="7.1" height="7.1" fill="#d1d1d2"/><rect x="544.4" y="190.6" width="7.1" height="7.1" fill="#e6e6e7"/><rect x="551.3" y="190.6" width="7.1" height="7.1" fill="#eaeaeb"/><rect x="558.2" y="190.6" width="7.1" height="7.1" fill="#e4e4e5"/><rect x="565.1" y="190.6" width="7.1" height="7.1" fill="#e0e0e1"/><rect x="572.0" y="190.6" width="7.1" height="7.1" fill="#c9c9ca"/><rect x="578.9" y="190.6" width="7.1" height="7.1" fill="#d9d9da"/><rect x="585.8" y="190.6" width="7.1" height="7.1" fill="#f2f2f3"/><rect x="592.7" y="190.6" width="7.1" height="7.1" fill="#e9e9ea"/><rect x="599.6" y="190.6" width="7.1" height="7.1" fill="#b3b3b4"/><rect x="606.5" y="190.6" width="7.1" height="7.1" fill="#e4e4e5"/><rect x="613.4" y="190.6" width="7.1" height="7.1" fill="#e5e5e6"/><rect x="620.3" y="190.6" width="7.1" height="7.1" fill="#c3c3c4"/><rect x="627.2" y="190.6" width="7.1" height="7.1" fill="#dbdbdc"/><rect x="634.1" y="190.6" width="7.1" height="7.1" fill="#cbcbcc"/><rect x="641.0" y="190.6" width="7.1" height="7.1" fill="#c2c2c3"/><rect x="647.9" y="190.6" width="7.1" height="7.1" fill="#c9c9ca"/><rect x="130.4" y="197.5" width="7.1" height="7.1" fill="#e4d0db"/><rect x="137.3" y="197.5" width="7.1" height="7.1" fill="#f2e7ed"/><rect x="227.0" y="197.5" width="7.1" height="7.1" fill="#ecdde6"/><rect x="233.9" y="197.5" width="7.1" height="7.1" fill="#dee9f7"/><rect x="240.8" y="197.5" width="7.1" height="7.1" fill="#dee9f7"/><rect x="247.7" y="197.5" width="7.1" height="7.1" fill="#c3d6ee"/><rect x="254.6" y="197.5" width="7.1" height="7.1" fill="#a8c3e6"/><rect x="261.5" y="197.5" width="7.1" height="7.1" fill="#a8c3e6"/><rect x="268.4" y="197.5" width="7.1" height="7.1" fill="#c3d6ee"/><rect x="275.3" y="197.5" width="7.1" height="7.1" fill="#edf3fb"/><rect x="282.2" y="197.5" width="7.1" height="7.1" fill="#b6cdeb"/><rect x="289.1" y="197.5" width="7.1" height="7.1" fill="#b6cdeb"/><rect x="296.0" y="197.5" width="7.1" height="7.1" fill="#a881a2"/><rect x="302.9" y="197.5" width="7.1" height="7.1" fill="#f4f4f7"/><rect x="309.8" y="197.5" width="7.1" height="7.1" fill="#f4f4f7"/><rect x="316.7" y="197.5" width="7.1" height="7.1" fill="#f4f4f7"/><rect x="323.6" y="197.5" width="7.1" height="7.1" fill="#f4f4f7"/><rect x="330.5" y="197.5" width="7.1" height="7.1" fill="#f4f4f7"/><rect x="337.4" y="197.5" width="7.1" height="7.1" fill="#f4f4f7"/><rect x="344.3" y="197.5" width="7.1" height="7.1" fill="#f4f4f7"/><rect x="351.2" y="197.5" width="7.1" height="7.1" fill="#f4f4f7"/><rect x="358.1" y="197.5" width="7.1" height="7.1" fill="#f4f4f7"/><rect x="365.0" y="197.5" width="7.1" height="7.1" fill="#f4f4f7"/><rect x="371.9" y="197.5" width="7.1" height="7.1" fill="#f4f4f7"/><rect x="378.8" y="197.5" width="7.1" height="7.1" fill="#f4f4f7"/><rect x="385.7" y="197.5" width="7.1" height="7.1" fill="#f4f4f7"/><rect x="392.6" y="197.5" width="7.1" height="7.1" fill="#f4f4f7"/><rect x="399.5" y="197.5" width="7.1" height="7.1" fill="#f4f4f7"/><rect x="406.4" y="197.5" width="7.1" height="7.1" fill="#dbcdd6"/><rect x="413.3" y="197.5" width="7.1" height="7.1" fill="#bb98a8"/><rect x="420.2" y="197.5" width="7.1" height="7.1" fill="#d7d7d8"/><rect x="427.1" y="197.5" width="7.1" height="7.1" fill="#c9c9ca"/><rect x="434.0" y="197.5" width="7.1" height="7.1" fill="#e9e9ea"/><rect x="440.9" y="197.5" width="7.1" height="7.1" fill="#c5c5c6"/><rect x="447.8" y="197.5" width="7.1" height="7.1" fill="#e8e8e9"/><rect x="454.7" y="197.5" width="7.1" height="7.1" fill="#e8e8e9"/><rect x="461.6" y="197.5" width="7.1" height="7.1" fill="#e4d6b8"/><rect x="468.5" y="197.5" width="7.1" height="7.1" fill="#f4e6c0"/><rect x="475.4" y="197.5" width="7.1" height="7.1" fill="#f4e6bf"/><rect x="482.3" y="197.5" width="7.1" height="7.1" fill="#f3e3bb"/><rect x="489.2" y="197.5" width="7.1" height="7.1" fill="#e0e0e1"/><rect x="496.1" y="197.5" width="7.1" height="7.1" fill="#e4e4e5"/><rect x="503.0" y="197.5" width="7.1" height="7.1" fill="#d3d3d4"/><rect x="509.9" y="197.5" width="7.1" height="7.1" fill="#c6c6c7"/><rect x="516.8" y="197.5" width="7.1" height="7.1" fill="#d4d4d5"/><rect x="523.7" y="197.5" width="7.1" height="7.1" fill="#eedfb9"/><rect x="530.6" y="197.5" width="7.1" height="7.1" fill="#ebdab1"/><rect x="537.5" y="197.5" width="7.1" height="7.1" fill="#decea4"/><rect x="544.4" y="197.5" width="7.1" height="7.1" fill="#ddddde"/><rect x="551.3" y="197.5" width="7.1" height="7.1" fill="#ededee"/><rect x="558.2" y="197.5" width="7.1" height="7.1" fill="#e1e1e2"/><rect x="565.1" y="197.5" width="7.1" height="7.1" fill="#e3e3e4"/><rect x="572.0" y="197.5" width="7.1" height="7.1" fill="#cbcbcc"/><rect x="578.9" y="197.5" width="7.1" height="7.1" fill="#efeff0"/><rect x="585.8" y="197.5" width="7.1" height="7.1" fill="#c2c2c3"/><rect x="592.7" y="197.5" width="7.1" height="7.1" fill="#e4e4e5"/><rect x="599.6" y="197.5" width="7.1" height="7.1" fill="#c1c1c2"/><rect x="606.5" y="197.5" width="7.1" height="7.1" fill="#ebebec"/><rect x="613.4" y="197.5" width="7.1" height="7.1" fill="#ededee"/><rect x="620.3" y="197.5" width="7.1" height="7.1" fill="#f6f6f8"/><rect x="627.2" y="197.5" width="7.1" height="7.1" fill="#f6f6f8"/><rect x="634.1" y="197.5" width="7.1" height="7.1" fill="#f6f6f8"/><rect x="641.0" y="197.5" width="7.1" height="7.1" fill="#d4d4d5"/><rect x="647.9" y="197.5" width="7.1" height="7.1" fill="#e9e9ea"/><rect x="130.4" y="204.4" width="7.1" height="7.1" fill="#e7d4df"/><rect x="137.3" y="204.4" width="7.1" height="7.1" fill="#f1e5ec"/><rect x="247.7" y="204.4" width="7.1" height="7.1" fill="#d0dff2"/><rect x="254.6" y="204.4" width="7.1" height="7.1" fill="#b6cdeb"/><rect x="261.5" y="204.4" width="7.1" height="7.1" fill="#d0dff2"/><rect x="268.4" y="204.4" width="7.1" height="7.1" fill="#aba5d2"/><rect x="275.3" y="204.4" width="7.1" height="7.1" fill="#aba4d2"/><rect x="282.2" y="204.4" width="7.1" height="7.1" fill="#9991c5"/><rect x="289.1" y="204.4" width="7.1" height="7.1" fill="#ada6d4"/><rect x="296.0" y="204.4" width="7.1" height="7.1" fill="#af88a7"/><rect x="302.9" y="204.4" width="7.1" height="7.1" fill="#c496ae"/><rect x="309.8" y="204.4" width="7.1" height="7.1" fill="#d0aabd"/><rect x="316.7" y="204.4" width="7.1" height="7.1" fill="#c496ae"/><rect x="323.6" y="204.4" width="7.1" height="7.1" fill="#cca3b8"/><rect x="330.5" y="204.4" width="7.1" height="7.1" fill="#c79bb2"/><rect x="337.4" y="204.4" width="7.1" height="7.1" fill="#ca9fb5"/><rect x="344.3" y="204.4" width="7.1" height="7.1" fill="#c89db3"/><rect x="351.2" y="204.4" width="7.1" height="7.1" fill="#c99db4"/><rect x="358.1" y="204.4" width="7.1" height="7.1" fill="#cfa8bc"/><rect x="365.0" y="204.4" width="7.1" height="7.1" fill="#c699b0"/><rect x="371.9" y="204.4" width="7.1" height="7.1" fill="#c598b0"/><rect x="378.8" y="204.4" width="7.1" height="7.1" fill="#cfa8bc"/><rect x="385.7" y="204.4" width="7.1" height="7.1" fill="#c39ab0"/><rect x="392.6" y="204.4" width="7.1" height="7.1" fill="#f4f4f7"/><rect x="399.5" y="204.4" width="7.1" height="7.1" fill="#f4f4f7"/><rect x="406.4" y="204.4" width="7.1" height="7.1" fill="#d5c6cf"/><rect x="413.3" y="204.4" width="7.1" height="7.1" fill="#ac8599"/><rect x="420.2" y="204.4" width="7.1" height="7.1" fill="#dfdfe0"/><rect x="427.1" y="204.4" width="7.1" height="7.1" fill="#e9e9ea"/><rect x="434.0" y="204.4" width="7.1" height="7.1" fill="#f6f6f7"/><rect x="440.9" y="204.4" width="7.1" height="7.1" fill="#e8e8e9"/><rect x="447.8" y="204.4" width="7.1" height="7.1" fill="#f2f2f3"/><rect x="454.7" y="204.4" width="7.1" height="7.1" fill="#eeeeef"/><rect x="461.6" y="204.4" width="7.1" height="7.1" fill="#e9dcc1"/><rect x="468.5" y="204.4" width="7.1" height="7.1" fill="#f1e1b7"/><rect x="475.4" y="204.4" width="7.1" height="7.1" fill="#f3e5bd"/><rect x="482.3" y="204.4" width="7.1" height="7.1" fill="#f5e7c2"/><rect x="489.2" y="204.4" width="7.1" height="7.1" fill="#f2f2f5"/><rect x="496.1" y="204.4" width="7.1" height="7.1" fill="#f2f2f5"/><rect x="503.0" y="204.4" width="7.1" height="7.1" fill="#f2f2f5"/><rect x="509.9" y="204.4" width="7.1" height="7.1" fill="#f2f2f5"/><rect x="516.8" y="204.4" width="7.1" height="7.1" fill="#f2f2f5"/><rect x="523.7" y="204.4" width="7.1" height="7.1" fill="#ead8ae"/><rect x="530.6" y="204.4" width="7.1" height="7.1" fill="#e9d7ac"/><rect x="537.5" y="204.4" width="7.1" height="7.1" fill="#e2d2aa"/><rect x="544.4" y="204.4" width="7.1" height="7.1" fill="#dbdbdc"/><rect x="551.3" y="204.4" width="7.1" height="7.1" fill="#c9c9ca"/><rect x="558.2" y="204.4" width="7.1" height="7.1" fill="#c3c3c4"/><rect x="565.1" y="204.4" width="7.1" height="7.1" fill="#e6e6e7"/><rect x="572.0" y="204.4" width="7.1" height="7.1" fill="#dcdcdd"/><rect x="578.9" y="204.4" width="7.1" height="7.1" fill="#dadadb"/><rect x="585.8" y="204.4" width="7.1" height="7.1" fill="#dbdbdc"/><rect x="592.7" y="204.4" width="7.1" height="7.1" fill="#dadadb"/><rect x="599.6" y="204.4" width="7.1" height="7.1" fill="#c4c4c5"/><rect x="606.5" y="204.4" width="7.1" height="7.1" fill="#e6e6e7"/><rect x="613.4" y="204.4" width="7.1" height="7.1" fill="#f6f6f8"/><rect x="620.3" y="204.4" width="7.1" height="7.1" fill="#f6f6f8"/><rect x="627.2" y="204.4" width="7.1" height="7.1" fill="#f6f6f8"/><rect x="634.1" y="204.4" width="7.1" height="7.1" fill="#f6f6f8"/><rect x="641.0" y="204.4" width="7.1" height="7.1" fill="#f6f6f8"/><rect x="647.9" y="204.4" width="7.1" height="7.1" fill="#e5e5e6"/><rect x="130.4" y="211.3" width="7.1" height="7.1" fill="#ddc3d2"/><rect x="137.3" y="211.3" width="7.1" height="7.1" fill="#f0e4eb"/><rect x="254.6" y="211.3" width="7.1" height="7.1" fill="#ebebec"/><rect x="261.5" y="211.3" width="7.1" height="7.1" fill="#eeeeef"/><rect x="268.4" y="211.3" width="7.1" height="7.1" fill="#e3e3e4"/><rect x="275.3" y="211.3" width="7.1" height="7.1" fill="#ededee"/><rect x="282.2" y="211.3" width="7.1" height="7.1" fill="#e8e8e9"/><rect x="289.1" y="211.3" width="7.1" height="7.1" fill="#ededee"/><rect x="296.0" y="211.3" width="7.1" height="7.1" fill="#ad87a6"/><rect x="302.9" y="211.3" width="7.1" height="7.1" fill="#f4f4f7"/><rect x="309.8" y="211.3" width="7.1" height="7.1" fill="#f4f4f7"/><rect x="316.7" y="211.3" width="7.1" height="7.1" fill="#f4f4f7"/><rect x="323.6" y="211.3" width="7.1" height="7.1" fill="#f4f4f7"/><rect x="330.5" y="211.3" width="7.1" height="7.1" fill="#f4f4f7"/><rect x="337.4" y="211.3" width="7.1" height="7.1" fill="#f4f4f7"/><rect x="344.3" y="211.3" width="7.1" height="7.1" fill="#f4f4f7"/><rect x="351.2" y="211.3" width="7.1" height="7.1" fill="#f4f4f7"/><rect x="358.1" y="211.3" width="7.1" height="7.1" fill="#f4f4f7"/><rect x="365.0" y="211.3" width="7.1" height="7.1" fill="#f4f4f7"/><rect x="371.9" y="211.3" width="7.1" height="7.1" fill="#f4f4f7"/><rect x="378.8" y="211.3" width="7.1" height="7.1" fill="#f4f4f7"/><rect x="385.7" y="211.3" width="7.1" height="7.1" fill="#cba5b9"/><rect x="392.6" y="211.3" width="7.1" height="7.1" fill="#f4f4f7"/><rect x="399.5" y="211.3" width="7.1" height="7.1" fill="#f4f4f7"/><rect x="406.4" y="211.3" width="7.1" height="7.1" fill="#daccd5"/><rect x="413.3" y="211.3" width="7.1" height="7.1" fill="#bd9aab"/><rect x="420.2" y="211.3" width="7.1" height="7.1" fill="#f4f4f5"/><rect x="427.1" y="211.3" width="7.1" height="7.1" fill="#eeeeef"/><rect x="434.0" y="211.3" width="7.1" height="7.1" fill="#f4f4f5"/><rect x="440.9" y="211.3" width="7.1" height="7.1" fill="#efeff0"/><rect x="447.8" y="211.3" width="7.1" height="7.1" fill="#f3f3f4"/><rect x="454.7" y="211.3" width="7.1" height="7.1" fill="#fafafb"/><rect x="461.6" y="211.3" width="7.1" height="7.1" fill="#e6d9bc"/><rect x="468.5" y="211.3" width="7.1" height="7.1" fill="#f4e6bf"/><rect x="475.4" y="211.3" width="7.1" height="7.1" fill="#f4e5bf"/><rect x="482.3" y="211.3" width="7.1" height="7.1" fill="#f5e6c1"/><rect x="489.2" y="211.3" width="7.1" height="7.1" fill="#f2f2f5"/><rect x="496.1" y="211.3" width="7.1" height="7.1" fill="#f2f2f5"/><rect x="503.0" y="211.3" width="7.1" height="7.1" fill="#f2f2f5"/><rect x="509.9" y="211.3" width="7.1" height="7.1" fill="#f2f2f5"/><rect x="516.8" y="211.3" width="7.1" height="7.1" fill="#f2f2f5"/><rect x="523.7" y="211.3" width="7.1" height="7.1" fill="#ebdab0"/><rect x="530.6" y="211.3" width="7.1" height="7.1" fill="#ebdab1"/><rect x="537.5" y="211.3" width="7.1" height="7.1" fill="#d7c597"/><rect x="544.4" y="211.3" width="7.1" height="7.1" fill="#e1e1e2"/><rect x="551.3" y="211.3" width="7.1" height="7.1" fill="#dcdcdd"/><rect x="558.2" y="211.3" width="7.1" height="7.1" fill="#d9d9da"/><rect x="565.1" y="211.3" width="7.1" height="7.1" fill="#e6e6e7"/><rect x="572.0" y="211.3" width="7.1" height="7.1" fill="#eeeeef"/><rect x="578.9" y="211.3" width="7.1" height="7.1" fill="#d4d4d5"/><rect x="585.8" y="211.3" width="7.1" height="7.1" fill="#c7c7c8"/><rect x="592.7" y="211.3" width="7.1" height="7.1" fill="#cacacb"/><rect x="599.6" y="211.3" width="7.1" height="7.1" fill="#bebebf"/><rect x="606.5" y="211.3" width="7.1" height="7.1" fill="#efeff0"/><rect x="613.4" y="211.3" width="7.1" height="7.1" fill="#f6f6f8"/><rect x="620.3" y="211.3" width="7.1" height="7.1" fill="#f6f6f8"/><rect x="627.2" y="211.3" width="7.1" height="7.1" fill="#f6f6f8"/><rect x="634.1" y="211.3" width="7.1" height="7.1" fill="#f6f6f8"/><rect x="641.0" y="211.3" width="7.1" height="7.1" fill="#f6f6f8"/><rect x="647.9" y="211.3" width="7.1" height="7.1" fill="#f6f6f8"/><rect x="130.4" y="218.2" width="7.1" height="7.1" fill="#ead9e2"/><rect x="137.3" y="218.2" width="7.1" height="7.1" fill="#eddee6"/><rect x="254.6" y="218.2" width="7.1" height="7.1" fill="#efeff0"/><rect x="261.5" y="218.2" width="7.1" height="7.1" fill="#ebebec"/><rect x="268.4" y="218.2" width="7.1" height="7.1" fill="#eeeeef"/><rect x="275.3" y="218.2" width="7.1" height="7.1" fill="#ececed"/><rect x="282.2" y="218.2" width="7.1" height="7.1" fill="#e4e4e5"/><rect x="289.1" y="218.2" width="7.1" height="7.1" fill="#f2f2f3"/><rect x="296.0" y="218.2" width="7.1" height="7.1" fill="#a982a3"/><rect x="302.9" y="218.2" width="7.1" height="7.1" fill="#ebebec"/><rect x="309.8" y="218.2" width="7.1" height="7.1" fill="#ececed"/><rect x="316.7" y="218.2" width="7.1" height="7.1" fill="#e8e8e9"/><rect x="323.6" y="218.2" width="7.1" height="7.1" fill="#e8e8e9"/><rect x="330.5" y="218.2" width="7.1" height="7.1" fill="#ececed"/><rect x="337.4" y="218.2" width="7.1" height="7.1" fill="#e3e3e4"/><rect x="344.3" y="218.2" width="7.1" height="7.1" fill="#efeff0"/><rect x="351.2" y="218.2" width="7.1" height="7.1" fill="#e4e4e5"/><rect x="358.1" y="218.2" width="7.1" height="7.1" fill="#e2e2e3"/><rect x="365.0" y="218.2" width="7.1" height="7.1" fill="#efeff0"/><rect x="371.9" y="218.2" width="7.1" height="7.1" fill="#ececed"/><rect x="378.8" y="218.2" width="7.1" height="7.1" fill="#efeff0"/><rect x="385.7" y="218.2" width="7.1" height="7.1" fill="#c79fb4"/><rect x="392.6" y="218.2" width="7.1" height="7.1" fill="#f4f4f7"/><rect x="399.5" y="218.2" width="7.1" height="7.1" fill="#f4f4f7"/><rect x="406.4" y="218.2" width="7.1" height="7.1" fill="#ded0d9"/><rect x="413.3" y="218.2" width="7.1" height="7.1" fill="#b894a5"/><rect x="420.2" y="218.2" width="7.1" height="7.1" fill="#f2f2f3"/><rect x="427.1" y="218.2" width="7.1" height="7.1" fill="#dbdbdc"/><rect x="434.0" y="218.2" width="7.1" height="7.1" fill="#f3f3f4"/><rect x="440.9" y="218.2" width="7.1" height="7.1" fill="#efeff0"/><rect x="447.8" y="218.2" width="7.1" height="7.1" fill="#f4f4f5"/><rect x="454.7" y="218.2" width="7.1" height="7.1" fill="#ebebec"/><rect x="461.6" y="218.2" width="7.1" height="7.1" fill="#e5d7b9"/><rect x="468.5" y="218.2" width="7.1" height="7.1" fill="#f6e7c3"/><rect x="475.4" y="218.2" width="7.1" height="7.1" fill="#f0e0b5"/><rect x="482.3" y="218.2" width="7.1" height="7.1" fill="#f3e5bd"/><rect x="489.2" y="218.2" width="7.1" height="7.1" fill="#f2f2f5"/><rect x="496.1" y="218.2" width="7.1" height="7.1" fill="#f2f2f5"/><rect x="503.0" y="218.2" width="7.1" height="7.1" fill="#f2f2f5"/><rect x="509.9" y="218.2" width="7.1" height="7.1" fill="#f2f2f5"/><rect x="516.8" y="218.2" width="7.1" height="7.1" fill="#f2f2f5"/><rect x="523.7" y="218.2" width="7.1" height="7.1" fill="#e9d8ad"/><rect x="530.6" y="218.2" width="7.1" height="7.1" fill="#eddeb8"/><rect x="537.5" y="218.2" width="7.1" height="7.1" fill="#e0d0a7"/><rect x="544.4" y="218.2" width="7.1" height="7.1" fill="#e7e7e8"/><rect x="551.3" y="218.2" width="7.1" height="7.1" fill="#cececf"/><rect x="558.2" y="218.2" width="7.1" height="7.1" fill="#e7e7e8"/><rect x="565.1" y="218.2" width="7.1" height="7.1" fill="#c7c7c8"/><rect x="572.0" y="218.2" width="7.1" height="7.1" fill="#dcdcdd"/><rect x="578.9" y="218.2" width="7.1" height="7.1" fill="#f1f1f2"/><rect x="585.8" y="218.2" width="7.1" height="7.1" fill="#c1c1c2"/><rect x="592.7" y="218.2" width="7.1" height="7.1" fill="#c7c7c8"/><rect x="599.6" y="218.2" width="7.1" height="7.1" fill="#c6c6c7"/><rect x="606.5" y="218.2" width="7.1" height="7.1" fill="#d8d8d9"/><rect x="613.4" y="218.2" width="7.1" height="7.1" fill="#f6f6f8"/><rect x="620.3" y="218.2" width="7.1" height="7.1" fill="#f6f6f8"/><rect x="627.2" y="218.2" width="7.1" height="7.1" fill="#f6f6f8"/><rect x="634.1" y="218.2" width="7.1" height="7.1" fill="#f6f6f8"/><rect x="641.0" y="218.2" width="7.1" height="7.1" fill="#f6f6f8"/><rect x="647.9" y="218.2" width="7.1" height="7.1" fill="#f6f6f8"/><rect x="130.4" y="225.1" width="7.1" height="7.1" fill="#ddc2d0"/><rect x="137.3" y="225.1" width="7.1" height="7.1" fill="#f1e5eb"/><rect x="254.6" y="225.1" width="7.1" height="7.1" fill="#dbe4f3"/><rect x="261.5" y="225.1" width="7.1" height="7.1" fill="#e4ebf6"/><rect x="268.4" y="225.1" width="7.1" height="7.1" fill="#d9e3f3"/><rect x="275.3" y="225.1" width="7.1" height="7.1" fill="#dfe7f5"/><rect x="282.2" y="225.1" width="7.1" height="7.1" fill="#d8e3f2"/><rect x="289.1" y="225.1" width="7.1" height="7.1" fill="#d5e0f1"/><rect x="296.0" y="225.1" width="7.1" height="7.1" fill="#ae88a7"/><rect x="302.9" y="225.1" width="7.1" height="7.1" fill="#d2adc1"/><rect x="309.8" y="225.1" width="7.1" height="7.1" fill="#cea6bb"/><rect x="316.7" y="225.1" width="7.1" height="7.1" fill="#cda5ba"/><rect x="323.6" y="225.1" width="7.1" height="7.1" fill="#d2aec1"/><rect x="330.5" y="225.1" width="7.1" height="7.1" fill="#d6b3c6"/><rect x="337.4" y="225.1" width="7.1" height="7.1" fill="#c598af"/><rect x="344.3" y="225.1" width="7.1" height="7.1" fill="#d1abbf"/><rect x="351.2" y="225.1" width="7.1" height="7.1" fill="#cfa8bc"/><rect x="358.1" y="225.1" width="7.1" height="7.1" fill="#cba2b7"/><rect x="365.0" y="225.1" width="7.1" height="7.1" fill="#cea6bb"/><rect x="371.9" y="225.1" width="7.1" height="7.1" fill="#c598b0"/><rect x="378.8" y="225.1" width="7.1" height="7.1" fill="#cda6bb"/><rect x="385.7" y="225.1" width="7.1" height="7.1" fill="#c29aaf"/><rect x="392.6" y="225.1" width="7.1" height="7.1" fill="#f4f4f7"/><rect x="399.5" y="225.1" width="7.1" height="7.1" fill="#f4f4f7"/><rect x="406.4" y="225.1" width="7.1" height="7.1" fill="#d5c6cf"/><rect x="413.3" y="225.1" width="7.1" height="7.1" fill="#b18b9e"/><rect x="420.2" y="225.1" width="7.1" height="7.1" fill="#e3e3e4"/><rect x="427.1" y="225.1" width="7.1" height="7.1" fill="#f5f5f6"/><rect x="434.0" y="225.1" width="7.1" height="7.1" fill="#f8f8f9"/><rect x="440.9" y="225.1" width="7.1" height="7.1" fill="#f6f6f7"/><rect x="447.8" y="225.1" width="7.1" height="7.1" fill="#e8e8e9"/><rect x="454.7" y="225.1" width="7.1" height="7.1" fill="#e2e2e3"/><rect x="461.6" y="225.1" width="7.1" height="7.1" fill="#e3d5b6"/><rect x="468.5" y="225.1" width="7.1" height="7.1" fill="#f3e5bd"/><rect x="475.4" y="225.1" width="7.1" height="7.1" fill="#f6e7c3"/><rect x="482.3" y="225.1" width="7.1" height="7.1" fill="#f3e4bb"/><rect x="489.2" y="225.1" width="7.1" height="7.1" fill="#f2f2f5"/><rect x="496.1" y="225.1" width="7.1" height="7.1" fill="#f2f2f5"/><rect x="503.0" y="225.1" width="7.1" height="7.1" fill="#f2f2f5"/><rect x="509.9" y="225.1" width="7.1" height="7.1" fill="#f2f2f5"/><rect x="516.8" y="225.1" width="7.1" height="7.1" fill="#f2f2f5"/><rect x="523.7" y="225.1" width="7.1" height="7.1" fill="#efe0bb"/><rect x="530.6" y="225.1" width="7.1" height="7.1" fill="#eddeb7"/><rect x="537.5" y="225.1" width="7.1" height="7.1" fill="#dac89c"/><rect x="544.4" y="225.1" width="7.1" height="7.1" fill="#efeff0"/><rect x="551.3" y="225.1" width="7.1" height="7.1" fill="#ececed"/><rect x="558.2" y="225.1" width="7.1" height="7.1" fill="#e7e7e8"/><rect x="565.1" y="225.1" width="7.1" height="7.1" fill="#f0f0f1"/><rect x="572.0" y="225.1" width="7.1" height="7.1" fill="#c2c2c3"/><rect x="578.9" y="225.1" width="7.1" height="7.1" fill="#dfdfe0"/><rect x="585.8" y="225.1" width="7.1" height="7.1" fill="#ddddde"/><rect x="592.7" y="225.1" width="7.1" height="7.1" fill="#bfbfc0"/><rect x="599.6" y="225.1" width="7.1" height="7.1" fill="#bebebf"/><rect x="606.5" y="225.1" width="7.1" height="7.1" fill="#d8d8d9"/><rect x="613.4" y="225.1" width="7.1" height="7.1" fill="#f6f6f8"/><rect x="620.3" y="225.1" width="7.1" height="7.1" fill="#f6f6f8"/><rect x="627.2" y="225.1" width="7.1" height="7.1" fill="#f6f6f8"/><rect x="634.1" y="225.1" width="7.1" height="7.1" fill="#f6f6f8"/><rect x="641.0" y="225.1" width="7.1" height="7.1" fill="#f6f6f8"/><rect x="647.9" y="225.1" width="7.1" height="7.1" fill="#f0f0f1"/><rect x="130.4" y="232.0" width="7.1" height="7.1" fill="#e0c8d5"/><rect x="137.3" y="232.0" width="7.1" height="7.1" fill="#ecdce5"/><rect x="240.8" y="232.0" width="7.1" height="7.1" fill="#f5eef2"/><rect x="247.7" y="232.0" width="7.1" height="7.1" fill="#d0dff2"/><rect x="254.6" y="232.0" width="7.1" height="7.1" fill="#edf3fb"/><rect x="261.5" y="232.0" width="7.1" height="7.1" fill="#c3d6ee"/><rect x="268.4" y="232.0" width="7.1" height="7.1" fill="#dee9f7"/><rect x="275.3" y="232.0" width="7.1" height="7.1" fill="#dee9f7"/><rect x="282.2" y="232.0" width="7.1" height="7.1" fill="#c3d6ee"/><rect x="289.1" y="232.0" width="7.1" height="7.1" fill="#edf3fb"/><rect x="296.0" y="232.0" width="7.1" height="7.1" fill="#af89a8"/><rect x="302.9" y="232.0" width="7.1" height="7.1" fill="#eee1e8"/><rect x="309.8" y="232.0" width="7.1" height="7.1" fill="#efe4ea"/><rect x="316.7" y="232.0" width="7.1" height="7.1" fill="#ede0e8"/><rect x="323.6" y="232.0" width="7.1" height="7.1" fill="#eddfe7"/><rect x="330.5" y="232.0" width="7.1" height="7.1" fill="#f3eaef"/><rect x="337.4" y="232.0" width="7.1" height="7.1" fill="#f1e7ed"/><rect x="344.3" y="232.0" width="7.1" height="7.1" fill="#efe3ea"/><rect x="351.2" y="232.0" width="7.1" height="7.1" fill="#f0e5eb"/><rect x="358.1" y="232.0" width="7.1" height="7.1" fill="#f6f0f4"/><rect x="365.0" y="232.0" width="7.1" height="7.1" fill="#ede0e7"/><rect x="371.9" y="232.0" width="7.1" height="7.1" fill="#f5eef3"/><rect x="378.8" y="232.0" width="7.1" height="7.1" fill="#f3ebf0"/><rect x="385.7" y="232.0" width="7.1" height="7.1" fill="#f4f4f7"/><rect x="392.6" y="232.0" width="7.1" height="7.1" fill="#f4f4f7"/><rect x="399.5" y="232.0" width="7.1" height="7.1" fill="#f4f4f7"/><rect x="406.4" y="232.0" width="7.1" height="7.1" fill="#d9cad3"/><rect x="413.3" y="232.0" width="7.1" height="7.1" fill="#ac8498"/><rect x="420.2" y="232.0" width="7.1" height="7.1" fill="#eaeaeb"/><rect x="427.1" y="232.0" width="7.1" height="7.1" fill="#e7e7e8"/><rect x="434.0" y="232.0" width="7.1" height="7.1" fill="#ddddde"/><rect x="440.9" y="232.0" width="7.1" height="7.1" fill="#d9d9da"/><rect x="447.8" y="232.0" width="7.1" height="7.1" fill="#f3f3f4"/><rect x="454.7" y="232.0" width="7.1" height="7.1" fill="#dcdcdd"/><rect x="461.6" y="232.0" width="7.1" height="7.1" fill="#e6d9bc"/><rect x="468.5" y="232.0" width="7.1" height="7.1" fill="#f4e5be"/><rect x="475.4" y="232.0" width="7.1" height="7.1" fill="#f3e5bd"/><rect x="482.3" y="232.0" width="7.1" height="7.1" fill="#f4e6c0"/><rect x="489.2" y="232.0" width="7.1" height="7.1" fill="#f2f2f5"/><rect x="496.1" y="232.0" width="7.1" height="7.1" fill="#f2f2f5"/><rect x="503.0" y="232.0" width="7.1" height="7.1" fill="#f2f2f5"/><rect x="509.9" y="232.0" width="7.1" height="7.1" fill="#f2f2f5"/><rect x="516.8" y="232.0" width="7.1" height="7.1" fill="#f2f2f5"/><rect x="523.7" y="232.0" width="7.1" height="7.1" fill="#ead9af"/><rect x="530.6" y="232.0" width="7.1" height="7.1" fill="#ebdab1"/><rect x="537.5" y="232.0" width="7.1" height="7.1" fill="#d6c496"/><rect x="544.4" y="232.0" width="7.1" height="7.1" fill="#dfdfe0"/><rect x="551.3" y="232.0" width="7.1" height="7.1" fill="#ebebec"/><rect x="558.2" y="232.0" width="7.1" height="7.1" fill="#e7e7e8"/><rect x="565.1" y="232.0" width="7.1" height="7.1" fill="#c5c5c6"/><rect x="572.0" y="232.0" width="7.1" height="7.1" fill="#dededf"/><rect x="578.9" y="232.0" width="7.1" height="7.1" fill="#e0e0e1"/><rect x="585.8" y="232.0" width="7.1" height="7.1" fill="#d0d0d1"/><rect x="592.7" y="232.0" width="7.1" height="7.1" fill="#d2d2d3"/><rect x="599.6" y="232.0" width="7.1" height="7.1" fill="#c3c3c4"/><rect x="606.5" y="232.0" width="7.1" height="7.1" fill="#e2e2e3"/><rect x="613.4" y="232.0" width="7.1" height="7.1" fill="#e7e7e8"/><rect x="620.3" y="232.0" width="7.1" height="7.1" fill="#e7e7e8"/><rect x="627.2" y="232.0" width="7.1" height="7.1" fill="#f6f6f8"/><rect x="634.1" y="232.0" width="7.1" height="7.1" fill="#f6f6f8"/><rect x="641.0" y="232.0" width="7.1" height="7.1" fill="#e2e2e3"/><rect x="647.9" y="232.0" width="7.1" height="7.1" fill="#e1e1e2"/><rect x="130.4" y="238.9" width="7.1" height="7.1" fill="#e9d8e2"/><rect x="137.3" y="238.9" width="7.1" height="7.1" fill="#e8d7e0"/><rect x="233.9" y="238.9" width="7.1" height="7.1" fill="#b6cdeb"/><rect x="240.8" y="238.9" width="7.1" height="7.1" fill="#c3d6ee"/><rect x="247.7" y="238.9" width="7.1" height="7.1" fill="#edf3fb"/><rect x="254.6" y="238.9" width="7.1" height="7.1" fill="#d0dff2"/><rect x="261.5" y="238.9" width="7.1" height="7.1" fill="#d0dff2"/><rect x="268.4" y="238.9" width="7.1" height="7.1" fill="#b6cdeb"/><rect x="275.3" y="238.9" width="7.1" height="7.1" fill="#d0dff2"/><rect x="282.2" y="238.9" width="7.1" height="7.1" fill="#b6cdeb"/><rect x="289.1" y="238.9" width="7.1" height="7.1" fill="#b6cdeb"/><rect x="296.0" y="238.9" width="7.1" height="7.1" fill="#ac86a6"/><rect x="302.9" y="238.9" width="7.1" height="7.1" fill="#f4f4f7"/><rect x="309.8" y="238.9" width="7.1" height="7.1" fill="#f4f4f7"/><rect x="316.7" y="238.9" width="7.1" height="7.1" fill="#f4f4f7"/><rect x="323.6" y="238.9" width="7.1" height="7.1" fill="#f4f4f7"/><rect x="330.5" y="238.9" width="7.1" height="7.1" fill="#f4f4f7"/><rect x="337.4" y="238.9" width="7.1" height="7.1" fill="#f4f4f7"/><rect x="344.3" y="238.9" width="7.1" height="7.1" fill="#f4f4f7"/><rect x="351.2" y="238.9" width="7.1" height="7.1" fill="#f4f4f7"/><rect x="358.1" y="238.9" width="7.1" height="7.1" fill="#f4f4f7"/><rect x="365.0" y="238.9" width="7.1" height="7.1" fill="#f4f4f7"/><rect x="371.9" y="238.9" width="7.1" height="7.1" fill="#f4f4f7"/><rect x="378.8" y="238.9" width="7.1" height="7.1" fill="#f4f4f7"/><rect x="385.7" y="238.9" width="7.1" height="7.1" fill="#f4f4f7"/><rect x="392.6" y="238.9" width="7.1" height="7.1" fill="#f4f4f7"/><rect x="399.5" y="238.9" width="7.1" height="7.1" fill="#f4f4f7"/><rect x="406.4" y="238.9" width="7.1" height="7.1" fill="#e2d6de"/><rect x="413.3" y="238.9" width="7.1" height="7.1" fill="#bc99a9"/><rect x="420.2" y="238.9" width="7.1" height="7.1" fill="#f7f7f8"/><rect x="427.1" y="238.9" width="7.1" height="7.1" fill="#eeeeef"/><rect x="434.0" y="238.9" width="7.1" height="7.1" fill="#d2d2d3"/><rect x="440.9" y="238.9" width="7.1" height="7.1" fill="#d8d8d9"/><rect x="447.8" y="238.9" width="7.1" height="7.1" fill="#dededf"/><rect x="454.7" y="238.9" width="7.1" height="7.1" fill="#d8d8d9"/><rect x="461.6" y="238.9" width="7.1" height="7.1" fill="#eadec3"/><rect x="468.5" y="238.9" width="7.1" height="7.1" fill="#f1e1b5"/><rect x="475.4" y="238.9" width="7.1" height="7.1" fill="#f3e4bb"/><rect x="482.3" y="238.9" width="7.1" height="7.1" fill="#f5e7c3"/><rect x="489.2" y="238.9" width="7.1" height="7.1" fill="#d1d1d2"/><rect x="496.1" y="238.9" width="7.1" height="7.1" fill="#e9e9e9"/><rect x="503.0" y="238.9" width="7.1" height="7.1" fill="#cccccd"/><rect x="509.9" y="238.9" width="7.1" height="7.1" fill="#d3d3d4"/><rect x="516.8" y="238.9" width="7.1" height="7.1" fill="#d2d2d3"/><rect x="523.7" y="238.9" width="7.1" height="7.1" fill="#ead8ae"/><rect x="530.6" y="238.9" width="7.1" height="7.1" fill="#ebdbb2"/><rect x="537.5" y="238.9" width="7.1" height="7.1" fill="#dac99c"/><rect x="544.4" y="238.9" width="7.1" height="7.1" fill="#ededee"/><rect x="551.3" y="238.9" width="7.1" height="7.1" fill="#c2c2c3"/><rect x="558.2" y="238.9" width="7.1" height="7.1" fill="#d7d7d8"/><rect x="565.1" y="238.9" width="7.1" height="7.1" fill="#ececed"/><rect x="572.0" y="238.9" width="7.1" height="7.1" fill="#dfdfe0"/><rect x="578.9" y="238.9" width="7.1" height="7.1" fill="#f0f0f1"/><rect x="585.8" y="238.9" width="7.1" height="7.1" fill="#cbcbcc"/><rect x="592.7" y="238.9" width="7.1" height="7.1" fill="#d3d3d4"/><rect x="599.6" y="238.9" width="7.1" height="7.1" fill="#c7c7c8"/><rect x="606.5" y="238.9" width="7.1" height="7.1" fill="#e4e4e5"/><rect x="613.4" y="238.9" width="7.1" height="7.1" fill="#dadadb"/><rect x="620.3" y="238.9" width="7.1" height="7.1" fill="#e0e0e1"/><rect x="627.2" y="238.9" width="7.1" height="7.1" fill="#f2f2f3"/><rect x="634.1" y="238.9" width="7.1" height="7.1" fill="#d3d3d4"/><rect x="641.0" y="238.9" width="7.1" height="7.1" fill="#ececed"/><rect x="647.9" y="238.9" width="7.1" height="7.1" fill="#d7d7d8"/><rect x="137.3" y="245.8" width="7.1" height="7.1" fill="#dec5d3"/><rect x="220.1" y="245.8" width="7.1" height="7.1" fill="#a8c3e6"/><rect x="227.0" y="245.8" width="7.1" height="7.1" fill="#a8c3e6"/><rect x="233.9" y="245.8" width="7.1" height="7.1" fill="#c3d6ee"/><rect x="240.8" y="245.8" width="7.1" height="7.1" fill="#d0dff2"/><rect x="247.7" y="245.8" width="7.1" height="7.1" fill="#d0dff2"/><rect x="254.6" y="245.8" width="7.1" height="7.1" fill="#c3d6ee"/><rect x="261.5" y="245.8" width="7.1" height="7.1" fill="#b6cdeb"/><rect x="268.4" y="245.8" width="7.1" height="7.1" fill="#d0dff2"/><rect x="275.3" y="245.8" width="7.1" height="7.1" fill="#b6cdeb"/><rect x="282.2" y="245.8" width="7.1" height="7.1" fill="#d0dff2"/><rect x="289.1" y="245.8" width="7.1" height="7.1" fill="#c3d6ee"/><rect x="296.0" y="245.8" width="7.1" height="7.1" fill="#b18ba9"/><rect x="302.9" y="245.8" width="7.1" height="7.1" fill="#f4f4f7"/><rect x="309.8" y="245.8" width="7.1" height="7.1" fill="#f4f4f7"/><rect x="316.7" y="245.8" width="7.1" height="7.1" fill="#f4f4f7"/><rect x="323.6" y="245.8" width="7.1" height="7.1" fill="#f4f4f7"/><rect x="330.5" y="245.8" width="7.1" height="7.1" fill="#f4f4f7"/><rect x="337.4" y="245.8" width="7.1" height="7.1" fill="#f4f4f7"/><rect x="344.3" y="245.8" width="7.1" height="7.1" fill="#f4f4f7"/><rect x="351.2" y="245.8" width="7.1" height="7.1" fill="#f4f4f7"/><rect x="358.1" y="245.8" width="7.1" height="7.1" fill="#f4f4f7"/><rect x="365.0" y="245.8" width="7.1" height="7.1" fill="#f4f4f7"/><rect x="371.9" y="245.8" width="7.1" height="7.1" fill="#f4f4f7"/><rect x="378.8" y="245.8" width="7.1" height="7.1" fill="#f4f4f7"/><rect x="385.7" y="245.8" width="7.1" height="7.1" fill="#f4f4f7"/><rect x="392.6" y="245.8" width="7.1" height="7.1" fill="#f4f4f7"/><rect x="399.5" y="245.8" width="7.1" height="7.1" fill="#f4f4f7"/><rect x="406.4" y="245.8" width="7.1" height="7.1" fill="#d5c5cf"/><rect x="413.3" y="245.8" width="7.1" height="7.1" fill="#b38ea0"/><rect x="420.2" y="245.8" width="7.1" height="7.1" fill="#e4e4e5"/><rect x="427.1" y="245.8" width="7.1" height="7.1" fill="#d0d0d1"/><rect x="434.0" y="245.8" width="7.1" height="7.1" fill="#dcdcdd"/><rect x="440.9" y="245.8" width="7.1" height="7.1" fill="#e9e9ea"/><rect x="447.8" y="245.8" width="7.1" height="7.1" fill="#e2e2e3"/><rect x="454.7" y="245.8" width="7.1" height="7.1" fill="#e8e8e9"/><rect x="461.6" y="245.8" width="7.1" height="7.1" fill="#dadadb"/><rect x="468.5" y="245.8" width="7.1" height="7.1" fill="#cbcbcc"/><rect x="475.4" y="245.8" width="7.1" height="7.1" fill="#d1d1d2"/><rect x="482.3" y="245.8" width="7.1" height="7.1" fill="#d7d7d8"/><rect x="489.2" y="245.8" width="7.1" height="7.1" fill="#f7f7f8"/><rect x="496.1" y="245.8" width="7.1" height="7.1" fill="#f8f8f8"/><rect x="503.0" y="245.8" width="7.1" height="7.1" fill="#e0e0e1"/><rect x="509.9" y="245.8" width="7.1" height="7.1" fill="#d3d3d4"/><rect x="516.8" y="245.8" width="7.1" height="7.1" fill="#dcdcdd"/><rect x="523.7" y="245.8" width="7.1" height="7.1" fill="#e2e2e3"/><rect x="530.6" y="245.8" width="7.1" height="7.1" fill="#e2e2e3"/><rect x="537.5" y="245.8" width="7.1" height="7.1" fill="#e7e7e8"/><rect x="544.4" y="245.8" width="7.1" height="7.1" fill="#bfbfc0"/><rect x="551.3" y="245.8" width="7.1" height="7.1" fill="#efeff0"/><rect x="558.2" y="245.8" width="7.1" height="7.1" fill="#c1c1c2"/><rect x="565.1" y="245.8" width="7.1" height="7.1" fill="#e9e9ea"/><rect x="572.0" y="245.8" width="7.1" height="7.1" fill="#eeeeef"/><rect x="578.9" y="245.8" width="7.1" height="7.1" fill="#cfcfd0"/><rect x="585.8" y="245.8" width="7.1" height="7.1" fill="#dfdfe0"/><rect x="592.7" y="245.8" width="7.1" height="7.1" fill="#c7c7c8"/><rect x="599.6" y="245.8" width="7.1" height="7.1" fill="#bdbdbe"/><rect x="606.5" y="245.8" width="7.1" height="7.1" fill="#e6e6e7"/><rect x="613.4" y="245.8" width="7.1" height="7.1" fill="#d1d1d2"/><rect x="620.3" y="245.8" width="7.1" height="7.1" fill="#e4e4e5"/><rect x="627.2" y="245.8" width="7.1" height="7.1" fill="#c6c6c7"/><rect x="634.1" y="245.8" width="7.1" height="7.1" fill="#c1c1c2"/><rect x="641.0" y="245.8" width="7.1" height="7.1" fill="#e9e9ea"/><rect x="647.9" y="245.8" width="7.1" height="7.1" fill="#d1d1d2"/><rect x="137.3" y="252.7" width="7.1" height="7.1" fill="#f0e5eb"/><rect x="144.2" y="252.7" width="7.1" height="7.1" fill="#e2ccd8"/><rect x="199.4" y="252.7" width="7.1" height="7.1" fill="#e1c9d6"/><rect x="206.3" y="252.7" width="7.1" height="7.1" fill="#e3ccd9"/><rect x="213.2" y="252.7" width="7.1" height="7.1" fill="#c3d6ee"/><rect x="220.1" y="252.7" width="7.1" height="7.1" fill="#b6cdeb"/><rect x="227.0" y="252.7" width="7.1" height="7.1" fill="#c3d6ee"/><rect x="233.9" y="252.7" width="7.1" height="7.1" fill="#edf3fb"/><rect x="240.8" y="252.7" width="7.1" height="7.1" fill="#c3d6ee"/><rect x="247.7" y="252.7" width="7.1" height="7.1" fill="#b6cdeb"/><rect x="254.6" y="252.7" width="7.1" height="7.1" fill="#d0dff2"/><rect x="261.5" y="252.7" width="7.1" height="7.1" fill="#a8c3e6"/><rect x="268.4" y="252.7" width="7.1" height="7.1" fill="#dee9f7"/><rect x="275.3" y="252.7" width="7.1" height="7.1" fill="#dee9f7"/><rect x="282.2" y="252.7" width="7.1" height="7.1" fill="#dee9f7"/><rect x="289.1" y="252.7" width="7.1" height="7.1" fill="#d0dff2"/><rect x="296.0" y="252.7" width="7.1" height="7.1" fill="#bc9bae"/><rect x="302.9" y="252.7" width="7.1" height="7.1" fill="#c2a2b4"/><rect x="309.8" y="252.7" width="7.1" height="7.1" fill="#c09fb2"/><rect x="316.7" y="252.7" width="7.1" height="7.1" fill="#bd9caf"/><rect x="323.6" y="252.7" width="7.1" height="7.1" fill="#bf9eb1"/><rect x="330.5" y="252.7" width="7.1" height="7.1" fill="#be9db0"/><rect x="337.4" y="252.7" width="7.1" height="7.1" fill="#bd9caf"/><rect x="344.3" y="252.7" width="7.1" height="7.1" fill="#b896aa"/><rect x="351.2" y="252.7" width="7.1" height="7.1" fill="#bb99ad"/><rect x="358.1" y="252.7" width="7.1" height="7.1" fill="#ba99ac"/><rect x="365.0" y="252.7" width="7.1" height="7.1" fill="#c1a1b3"/><rect x="371.9" y="252.7" width="7.1" height="7.1" fill="#be9db0"/><rect x="378.8" y="252.7" width="7.1" height="7.1" fill="#bb99ad"/><rect x="385.7" y="252.7" width="7.1" height="7.1" fill="#bb99ad"/><rect x="392.6" y="252.7" width="7.1" height="7.1" fill="#c09fb2"/><rect x="399.5" y="252.7" width="7.1" height="7.1" fill="#bc9aae"/><rect x="406.4" y="252.7" width="7.1" height="7.1" fill="#ba99ac"/><rect x="413.3" y="252.7" width="7.1" height="7.1" fill="#c09fb2"/><rect x="420.2" y="252.7" width="7.1" height="7.1" fill="#f0f0f1"/><rect x="427.1" y="252.7" width="7.1" height="7.1" fill="#ddddde"/><rect x="434.0" y="252.7" width="7.1" height="7.1" fill="#e0e0e1"/><rect x="440.9" y="252.7" width="7.1" height="7.1" fill="#dfdfe0"/><rect x="447.8" y="252.7" width="7.1" height="7.1" fill="#e8e8e9"/><rect x="454.7" y="252.7" width="7.1" height="7.1" fill="#cccccd"/><rect x="461.6" y="252.7" width="7.1" height="7.1" fill="#e8e8e9"/><rect x="468.5" y="252.7" width="7.1" height="7.1" fill="#c8c8c9"/><rect x="475.4" y="252.7" width="7.1" height="7.1" fill="#cfcfd0"/><rect x="482.3" y="252.7" width="7.1" height="7.1" fill="#f4f4f4"/><rect x="489.2" y="252.7" width="7.1" height="7.1" fill="#f5f5f5"/><rect x="144.2" y="259.6" width="7.1" height="7.1" fill="#eee0e8"/><rect x="151.1" y="259.6" width="7.1" height="7.1" fill="#e0c7d5"/><rect x="158.0" y="259.6" width="7.1" height="7.1" fill="#e2cbd8"/><rect x="164.9" y="259.6" width="7.1" height="7.1" fill="#f3eaef"/><rect x="178.7" y="259.6" width="7.1" height="7.1" fill="#eddfe7"/><rect x="185.6" y="259.6" width="7.1" height="7.1" fill="#dfc5d3"/><rect x="192.5" y="259.6" width="7.1" height="7.1" fill="#d4b3c5"/><rect x="199.4" y="259.6" width="7.1" height="7.1" fill="#eee1e8"/><rect x="213.2" y="259.6" width="7.1" height="7.1" fill="#edf3fb"/><rect x="220.1" y="259.6" width="7.1" height="7.1" fill="#dee9f7"/><rect x="227.0" y="259.6" width="7.1" height="7.1" fill="#c3d6ee"/><rect x="233.9" y="259.6" width="7.1" height="7.1" fill="#c3d6ee"/><rect x="240.8" y="259.6" width="7.1" height="7.1" fill="#c3d6ee"/><rect x="247.7" y="259.6" width="7.1" height="7.1" fill="#a8c3e6"/><rect x="254.6" y="259.6" width="7.1" height="7.1" fill="#dee9f7"/><rect x="261.5" y="259.6" width="7.1" height="7.1" fill="#dee9f7"/><rect x="268.4" y="259.6" width="7.1" height="7.1" fill="#a8c3e6"/><rect x="275.3" y="259.6" width="7.1" height="7.1" fill="#a8c3e6"/><rect x="282.2" y="259.6" width="7.1" height="7.1" fill="#c3d6ee"/><rect x="289.1" y="259.6" width="7.1" height="7.1" fill="#a8c3e6"/><rect x="296.0" y="259.6" width="7.1" height="7.1" fill="#c3da97"/><rect x="302.9" y="259.6" width="7.1" height="7.1" fill="#c5db99"/><rect x="309.8" y="259.6" width="7.1" height="7.1" fill="#c3d996"/><rect x="316.7" y="259.6" width="7.1" height="7.1" fill="#cddfa4"/><rect x="323.6" y="259.6" width="7.1" height="7.1" fill="#cadea0"/><rect x="330.5" y="259.6" width="7.1" height="7.1" fill="#c1d893"/><rect x="337.4" y="259.6" width="7.1" height="7.1" fill="#c3da96"/><rect x="344.3" y="259.6" width="7.1" height="7.1" fill="#c5db9a"/><rect x="351.2" y="259.6" width="7.1" height="7.1" fill="#c4da98"/><rect x="358.1" y="259.6" width="7.1" height="7.1" fill="#c3d996"/><rect x="365.0" y="259.6" width="7.1" height="7.1" fill="#c8dd9d"/><rect x="371.9" y="259.6" width="7.1" height="7.1" fill="#c4da97"/><rect x="378.8" y="259.6" width="7.1" height="7.1" fill="#cadda0"/><rect x="385.7" y="259.6" width="7.1" height="7.1" fill="#c0d892"/><rect x="392.6" y="259.6" width="7.1" height="7.1" fill="#cbdea2"/><rect x="399.5" y="259.6" width="7.1" height="7.1" fill="#c1d893"/><rect x="406.4" y="259.6" width="7.1" height="7.1" fill="#c9dd9e"/><rect x="413.3" y="259.6" width="7.1" height="7.1" fill="#c3da97"/><rect x="420.2" y="259.6" width="7.1" height="7.1" fill="#f3f3f4"/><rect x="427.1" y="259.6" width="7.1" height="7.1" fill="#f7f7f8"/><rect x="434.0" y="259.6" width="7.1" height="7.1" fill="#d6d6d7"/><rect x="440.9" y="259.6" width="7.1" height="7.1" fill="#e5e5e6"/><rect x="447.8" y="259.6" width="7.1" height="7.1" fill="#f5f5f6"/><rect x="454.7" y="259.6" width="7.1" height="7.1" fill="#d6d6d7"/><rect x="461.6" y="259.6" width="7.1" height="7.1" fill="#e6e6e7"/><rect x="468.5" y="259.6" width="7.1" height="7.1" fill="#f0f0f1"/><rect x="475.4" y="259.6" width="7.1" height="7.1" fill="#fafafb"/><rect x="482.3" y="259.6" width="7.1" height="7.1" fill="#f4f4f5"/><rect x="158.0" y="266.5" width="7.1" height="7.1" fill="#eee1e9"/><rect x="164.9" y="266.5" width="7.1" height="7.1" fill="#ddc2d1"/><rect x="171.8" y="266.5" width="7.1" height="7.1" fill="#dfc6d4"/><rect x="178.7" y="266.5" width="7.1" height="7.1" fill="#e0c8d5"/><rect x="185.6" y="266.5" width="7.1" height="7.1" fill="#e5d1dc"/><rect x="213.2" y="266.5" width="7.1" height="7.1" fill="#dee9f7"/><rect x="220.1" y="266.5" width="7.1" height="7.1" fill="#a8c3e6"/><rect x="227.0" y="266.5" width="7.1" height="7.1" fill="#b6cdeb"/><rect x="233.9" y="266.5" width="7.1" height="7.1" fill="#b6cdeb"/><rect x="240.8" y="266.5" width="7.1" height="7.1" fill="#a8c3e6"/><rect x="247.7" y="266.5" width="7.1" height="7.1" fill="#d0dff2"/><rect x="254.6" y="266.5" width="7.1" height="7.1" fill="#edf3fb"/><rect x="261.5" y="266.5" width="7.1" height="7.1" fill="#d0dff2"/><rect x="268.4" y="266.5" width="7.1" height="7.1" fill="#dee9f7"/><rect x="275.3" y="266.5" width="7.1" height="7.1" fill="#dee9f7"/><rect x="282.2" y="266.5" width="7.1" height="7.1" fill="#a8c3e6"/><rect x="289.1" y="266.5" width="7.1" height="7.1" fill="#c3d6ee"/><rect x="296.0" y="266.5" width="7.1" height="7.1" fill="#cbdbab"/><rect x="302.9" y="266.5" width="7.1" height="7.1" fill="#d1dfb4"/><rect x="309.8" y="266.5" width="7.1" height="7.1" fill="#cfddb0"/><rect x="316.7" y="266.5" width="7.1" height="7.1" fill="#dfe8c9"/><rect x="323.6" y="266.5" width="7.1" height="7.1" fill="#d5e1ba"/><rect x="330.5" y="266.5" width="7.1" height="7.1" fill="#dce6c6"/><rect x="337.4" y="266.5" width="7.1" height="7.1" fill="#dbe5c3"/><rect x="344.3" y="266.5" width="7.1" height="7.1" fill="#d8e3bf"/><rect x="351.2" y="266.5" width="7.1" height="7.1" fill="#d2dfb5"/><rect x="358.1" y="266.5" width="7.1" height="7.1" fill="#dde7c6"/><rect x="365.0" y="266.5" width="7.1" height="7.1" fill="#cddcad"/><rect x="371.9" y="266.5" width="7.1" height="7.1" fill="#cadaa9"/><rect x="378.8" y="266.5" width="7.1" height="7.1" fill="#ccdcad"/><rect x="385.7" y="266.5" width="7.1" height="7.1" fill="#d9e4c0"/><rect x="392.6" y="266.5" width="7.1" height="7.1" fill="#c7d8a5"/><rect x="399.5" y="266.5" width="7.1" height="7.1" fill="#d2dfb6"/><rect x="406.4" y="266.5" width="7.1" height="7.1" fill="#c9d9a8"/><rect x="413.3" y="266.5" width="7.1" height="7.1" fill="#c4d6a0"/><rect x="420.2" y="266.5" width="7.1" height="7.1" fill="#f2f2f3"/><rect x="427.1" y="266.5" width="7.1" height="7.1" fill="#f1f1f2"/><rect x="434.0" y="266.5" width="7.1" height="7.1" fill="#ebebec"/><rect x="440.9" y="266.5" width="7.1" height="7.1" fill="#e9e9ea"/><rect x="447.8" y="266.5" width="7.1" height="7.1" fill="#dcdcdd"/><rect x="454.7" y="266.5" width="7.1" height="7.1" fill="#d0d0d1"/><rect x="461.6" y="266.5" width="7.1" height="7.1" fill="#eeeeef"/><rect x="468.5" y="266.5" width="7.1" height="7.1" fill="#fcfcfc"/><rect x="475.4" y="266.5" width="7.1" height="7.1" fill="#f0f0f1"/><rect x="213.2" y="273.4" width="7.1" height="7.1" fill="#dee9f7"/><rect x="220.1" y="273.4" width="7.1" height="7.1" fill="#edf3fb"/><rect x="227.0" y="273.4" width="7.1" height="7.1" fill="#dee9f7"/><rect x="233.9" y="273.4" width="7.1" height="7.1" fill="#dee9f7"/><rect x="240.8" y="273.4" width="7.1" height="7.1" fill="#b6cdeb"/><rect x="247.7" y="273.4" width="7.1" height="7.1" fill="#a8c3e6"/><rect x="254.6" y="273.4" width="7.1" height="7.1" fill="#a8c3e6"/><rect x="261.5" y="273.4" width="7.1" height="7.1" fill="#a8c3e6"/><rect x="268.4" y="273.4" width="7.1" height="7.1" fill="#c3d6ee"/><rect x="275.3" y="273.4" width="7.1" height="7.1" fill="#d0dff2"/><rect x="282.2" y="273.4" width="7.1" height="7.1" fill="#d0dff2"/><rect x="289.1" y="273.4" width="7.1" height="7.1" fill="#d0dff2"/><rect x="296.0" y="273.4" width="7.1" height="7.1" fill="#f7f7f8"/><rect x="302.9" y="273.4" width="7.1" height="7.1" fill="#e0e0e1"/><rect x="309.8" y="273.4" width="7.1" height="7.1" fill="#d4d4d5"/><rect x="316.7" y="273.4" width="7.1" height="7.1" fill="#d8d8d9"/><rect x="323.6" y="273.4" width="7.1" height="7.1" fill="#f5f5f6"/><rect x="330.5" y="273.4" width="7.1" height="7.1" fill="#f9f9fa"/><rect x="337.4" y="273.4" width="7.1" height="7.1" fill="#fcfcfd"/><rect x="344.3" y="273.4" width="7.1" height="7.1" fill="#e6e6e7"/><rect x="351.2" y="273.4" width="7.1" height="7.1" fill="#d4d4d5"/><rect x="358.1" y="273.4" width="7.1" height="7.1" fill="#dededf"/><rect x="365.0" y="273.4" width="7.1" height="7.1" fill="#e7e7e8"/><rect x="371.9" y="273.4" width="7.1" height="7.1" fill="#f3f3f4"/><rect x="378.8" y="273.4" width="7.1" height="7.1" fill="#fcfcfd"/><rect x="385.7" y="273.4" width="7.1" height="7.1" fill="#eeeeef"/><rect x="392.6" y="273.4" width="7.1" height="7.1" fill="#efeff0"/><rect x="399.5" y="273.4" width="7.1" height="7.1" fill="#dadadb"/><rect x="406.4" y="273.4" width="7.1" height="7.1" fill="#dededf"/><rect x="413.3" y="273.4" width="7.1" height="7.1" fill="#dadadb"/><rect x="420.2" y="273.4" width="7.1" height="7.1" fill="#e5e5e6"/><rect x="427.1" y="273.4" width="7.1" height="7.1" fill="#f5f5f6"/><rect x="434.0" y="273.4" width="7.1" height="7.1" fill="#ddddde"/><rect x="440.9" y="273.4" width="7.1" height="7.1" fill="#d2d2d3"/><rect x="447.8" y="273.4" width="7.1" height="7.1" fill="#f5f5f6"/><rect x="454.7" y="273.4" width="7.1" height="7.1" fill="#d9d9da"/><rect x="461.6" y="273.4" width="7.1" height="7.1" fill="#ececec"/><rect x="468.5" y="273.4" width="7.1" height="7.1" fill="#fbfbfc"/><rect x="213.2" y="280.3" width="7.1" height="7.1" fill="#e3e3e4"/><rect x="220.1" y="280.3" width="7.1" height="7.1" fill="#eaeaeb"/><rect x="227.0" y="280.3" width="7.1" height="7.1" fill="#f0f0f1"/><rect x="233.9" y="280.3" width="7.1" height="7.1" fill="#fafafb"/><rect x="240.8" y="280.3" width="7.1" height="7.1" fill="#f5f5f6"/><rect x="247.7" y="280.3" width="7.1" height="7.1" fill="#f4f4f5"/><rect x="254.6" y="280.3" width="7.1" height="7.1" fill="#f1f1f2"/><rect x="261.5" y="280.3" width="7.1" height="7.1" fill="#f6f6f7"/><rect x="268.4" y="280.3" width="7.1" height="7.1" fill="#f1f1f2"/><rect x="275.3" y="280.3" width="7.1" height="7.1" fill="#e7e7e8"/><rect x="282.2" y="280.3" width="7.1" height="7.1" fill="#f8f8f9"/><rect x="289.1" y="280.3" width="7.1" height="7.1" fill="#f7f7f8"/><rect x="296.0" y="280.3" width="7.1" height="7.1" fill="#f1f1f2"/><rect x="302.9" y="280.3" width="7.1" height="7.1" fill="#f7f7f8"/><rect x="309.8" y="280.3" width="7.1" height="7.1" fill="#fbfbfc"/><rect x="316.7" y="280.3" width="7.1" height="7.1" fill="#f6f6f7"/><rect x="323.6" y="280.3" width="7.1" height="7.1" fill="#ececed"/><rect x="330.5" y="280.3" width="7.1" height="7.1" fill="#f8f8f9"/><rect x="337.4" y="280.3" width="7.1" height="7.1" fill="#f5f5f6"/><rect x="344.3" y="280.3" width="7.1" height="7.1" fill="#fdfdfe"/><rect x="351.2" y="280.3" width="7.1" height="7.1" fill="#ececed"/><rect x="358.1" y="280.3" width="7.1" height="7.1" fill="#ededee"/><rect x="365.0" y="280.3" width="7.1" height="7.1" fill="#fdfdfe"/><rect x="371.9" y="280.3" width="7.1" height="7.1" fill="#f9f9fa"/><rect x="378.8" y="280.3" width="7.1" height="7.1" fill="#fbfbfc"/><rect x="385.7" y="280.3" width="7.1" height="7.1" fill="#ebebec"/><rect x="392.6" y="280.3" width="7.1" height="7.1" fill="#f8f8f9"/><rect x="399.5" y="280.3" width="7.1" height="7.1" fill="#f2f2f3"/><rect x="406.4" y="280.3" width="7.1" height="7.1" fill="#f8f8f9"/><rect x="413.3" y="280.3" width="7.1" height="7.1" fill="#fcfcfd"/><rect x="420.2" y="280.3" width="7.1" height="7.1" fill="#f0f0f1"/><rect x="427.1" y="280.3" width="7.1" height="7.1" fill="#e9e9ea"/><rect x="434.0" y="280.3" width="7.1" height="7.1" fill="#fcfcfc"/><rect x="440.9" y="280.3" width="7.1" height="7.1" fill="#f5f5f6"/><rect x="447.8" y="280.3" width="7.1" height="7.1" fill="#f6f6f6"/><rect x="454.7" y="280.3" width="7.1" height="7.1" fill="#f5f5f5"/><rect x="461.6" y="280.3" width="7.1" height="7.1" fill="#f7f7f8"/><rect x="213.2" y="287.2" width="7.1" height="7.1" fill="#e5e5e6"/><rect x="220.1" y="287.2" width="7.1" height="7.1" fill="#f8f8f9"/><rect x="227.0" y="287.2" width="7.1" height="7.1" fill="#f2f2f3"/><rect x="233.9" y="287.2" width="7.1" height="7.1" fill="#e9e9ea"/><rect x="240.8" y="287.2" width="7.1" height="7.1" fill="#e7e7e8"/><rect x="247.7" y="287.2" width="7.1" height="7.1" fill="#ebebec"/><rect x="254.6" y="287.2" width="7.1" height="7.1" fill="#f8f8f9"/><rect x="261.5" y="287.2" width="7.1" height="7.1" fill="#f0f0f1"/><rect x="268.4" y="287.2" width="7.1" height="7.1" fill="#fafafb"/><rect x="275.3" y="287.2" width="7.1" height="7.1" fill="#e3e3e4"/><rect x="282.2" y="287.2" width="7.1" height="7.1" fill="#ececed"/><rect x="289.1" y="287.2" width="7.1" height="7.1" fill="#f4f4f5"/><rect x="296.0" y="287.2" width="7.1" height="7.1" fill="#f3f3f4"/><rect x="302.9" y="287.2" width="7.1" height="7.1" fill="#f0f0f1"/><rect x="309.8" y="287.2" width="7.1" height="7.1" fill="#efeff0"/><rect x="316.7" y="287.2" width="7.1" height="7.1" fill="#e5e5e6"/><rect x="323.6" y="287.2" width="7.1" height="7.1" fill="#ececed"/><rect x="330.5" y="287.2" width="7.1" height="7.1" fill="#f8f8f9"/><rect x="337.4" y="287.2" width="7.1" height="7.1" fill="#fefeff"/><rect x="344.3" y="287.2" width="7.1" height="7.1" fill="#fafafb"/><rect x="351.2" y="287.2" width="7.1" height="7.1" fill="#e7e7e8"/><rect x="358.1" y="287.2" width="7.1" height="7.1" fill="#e9e9ea"/><rect x="365.0" y="287.2" width="7.1" height="7.1" fill="#fbfbfc"/><rect x="371.9" y="287.2" width="7.1" height="7.1" fill="#fbfbfc"/><rect x="378.8" y="287.2" width="7.1" height="7.1" fill="#ededee"/><rect x="385.7" y="287.2" width="7.1" height="7.1" fill="#f9f9fa"/><rect x="392.6" y="287.2" width="7.1" height="7.1" fill="#f2f2f3"/><rect x="399.5" y="287.2" width="7.1" height="7.1" fill="#fefeff"/><rect x="406.4" y="287.2" width="7.1" height="7.1" fill="#f3f3f4"/><rect x="413.3" y="287.2" width="7.1" height="7.1" fill="#fbfbfc"/><rect x="420.2" y="287.2" width="7.1" height="7.1" fill="#eeeeef"/><rect x="427.1" y="287.2" width="7.1" height="7.1" fill="#f9f9fa"/><rect x="434.0" y="287.2" width="7.1" height="7.1" fill="#f0f0f0"/><rect x="440.9" y="287.2" width="7.1" height="7.1" fill="#f3f3f3"/><rect x="447.8" y="287.2" width="7.1" height="7.1" fill="#eeeeee"/><rect x="454.7" y="287.2" width="7.1" height="7.1" fill="#fafafb"/><rect x="220.1" y="128.4" width="7.1" height="7.1" fill="#fafafa"/><rect x="227.0" y="128.4" width="7.1" height="7.1" fill="#f6f6f6"/><rect x="233.9" y="128.4" width="7.1" height="7.1" fill="#f4f4f4"/><rect x="240.8" y="128.4" width="7.1" height="7.1" fill="#f8f8f8"/><rect x="247.7" y="128.4" width="7.1" height="7.1" fill="#f6f6f6"/><rect x="254.6" y="128.4" width="7.1" height="7.1" fill="#f6f6f6"/><rect x="261.5" y="128.4" width="7.1" height="7.1" fill="#f4f4f4"/><rect x="268.4" y="128.4" width="7.1" height="7.1" fill="#f4f4f4"/><rect x="275.3" y="128.4" width="7.1" height="7.1" fill="#ececec"/><rect x="282.2" y="128.4" width="7.1" height="7.1" fill="#f4f4f4"/><rect x="289.1" y="128.4" width="7.1" height="7.1" fill="#f8f8f8"/><rect x="296.0" y="128.4" width="7.1" height="7.1" fill="#f6f6f6"/><rect x="302.9" y="128.4" width="7.1" height="7.1" fill="#f4f4f4"/><rect x="309.8" y="128.4" width="7.1" height="7.1" fill="#f0f0f0"/><rect x="316.7" y="128.4" width="7.1" height="7.1" fill="#ececec"/><rect x="323.6" y="128.4" width="7.1" height="7.1" fill="#f0f0f0"/><rect x="330.5" y="128.4" width="7.1" height="7.1" fill="#f6f6f6"/><rect x="337.4" y="128.4" width="7.1" height="7.1" fill="#f8f8f8"/><rect x="344.3" y="128.4" width="7.1" height="7.1" fill="#ececec"/><rect x="351.2" y="128.4" width="7.1" height="7.1" fill="#fafafa"/><rect x="358.1" y="128.4" width="7.1" height="7.1" fill="#f0f0f0"/><rect x="365.0" y="128.4" width="7.1" height="7.1" fill="#fafafa"/><rect x="371.9" y="128.4" width="7.1" height="7.1" fill="#fafafa"/><rect x="378.8" y="128.4" width="7.1" height="7.1" fill="#f0f0f0"/></g>
<g clip-path="url(#capT)" stroke="#555" stroke-width="0.9" fill="none"><path d="M197.0,148 L215.0,130 M213.8,148 L231.8,130 M230.6,148 L248.6,130 M247.4,148 L265.4,130 M264.2,148 L282.2,130 M281.0,148 L299.0,130 M297.8,148 L315.8,130 M314.6,148 L332.6,130 M331.4,148 L349.4,130 M348.2,148 L366.2,130 M365.0,148 L383.0,130 M381.8,148 L399.8,130 M398.6,148 L416.6,130 M415.4,148 L433.4,130 M432.2,148 L450.2,130 M449.0,148 L467.0,130"/></g>
<g clip-path="url(#capB)" stroke="#555" stroke-width="0.9" fill="none"><path d="M200.0,312 L217.0,295 M216.8,312 L233.8,295 M233.6,312 L250.6,295 M250.4,312 L267.4,295 M267.2,312 L284.2,295 M284.0,312 L301.0,295 M300.8,312 L317.8,295 M317.6,312 L334.6,295 M334.4,312 L351.4,295 M351.2,312 L368.2,295 M368.0,312 L385.0,295 M384.8,312 L401.8,295 M401.6,312 L418.6,295 M418.4,312 L435.4,295 M435.2,312 L452.2,295 M452.0,312 L469.0,295"/></g>
<path d="M219,147 L219,143 Q220,131.5 232,131.3 L335,132 Q370,134 400,138.3 L426,138.8 Q433.5,139 435,147 Z" fill="none" stroke="#777" stroke-width="1"/>
<path d="M219,296 L219,299 Q221,311.3 236,311.4 L343,311 Q372,308.5 402,304.1 L428,303.7 Q433.5,303.6 435,296 Z" fill="none" stroke="#777" stroke-width="1"/>
<g clip-path="url(#rbH)" stroke="#555" stroke-width="0.9" fill="none"><path d="M306.4,143.0 L363.4,200.0 M323.0,143.0 L380.0,200.0 M339.6,143.0 L396.6,200.0 M356.2,143.0 L413.2,200.0 M372.8,143.0 L429.8,200.0 M389.4,143.0 L446.4,200.0 M406.0,143.0 L463.0,200.0 M422.6,143.0 L479.6,200.0 M439.2,143.0 L496.2,200.0 M455.8,143.0 L512.8,200.0 M472.4,143.0 L529.4,200.0 M489.0,143.0 L546.0,200.0 M505.6,143.0 L562.6,200.0 M522.2,143.0 L579.2,200.0 M538.8,143.0 L595.8,200.0 M555.4,143.0 L612.4,200.0 M572.0,143.0 L629.0,200.0 M588.6,143.0 L645.6,200.0 M605.2,143.0 L662.2,200.0 M621.8,143.0 L678.8,200.0 M638.4,143.0 L695.4,200.0 M655.0,143.0 L712.0,200.0 M671.6,143.0 L728.6,200.0 M688.2,143.0 L745.2,200.0 M704.8,143.0 L761.8,200.0 M721.4,143.0 L778.4,200.0 M738.0,143.0 L795.0,200.0"/></g>
<path d="M459.4,292.6 l-3.5,-3.5 M467.5,284.5 l-3.5,-3.5 M475.6,276.4 l-3.5,-3.5 M483.7,268.3 l-3.5,-3.5 M491.8,260.2 l-3.5,-3.5" stroke="#666" stroke-width="0.8" fill="none"/>
<path d="M256.7,221 L256.7,210 Q255,209.2 250,208 L239.4,203.9 L212.8,188.1 L210.8,186 L210.8,154 Q211,146.8 218,146.6 L409,147.2 M416,148.2 L436.8,148.6 L436.8,143.4 L662.2,143.4 L1086,221.8 L1070.5,254.5 L635,254.5 L632.8,254.8 L632.8,261.8 L634.8,262.5 L634.8,269.2 L571.9,269.2 L571.9,261 L575.2,259.3 L575.2,254.6 L500.4,254.6 L455.4,299.3 L435.2,299.3 L435.2,294.2 L416,294.2 M410,295.4 L218,295.8 Q211,295.6 210.8,288 L210.8,256 L212.8,254.3 L239.4,238.5 L250,234.5 Q255,233.2 256.7,232.3 L256.7,221" fill="none" stroke="#1a1a1a" stroke-width="1.6" stroke-linejoin="round"/>
<path d="M212.5,151.5 L220,158.5 M212.5,290.5 L220,283.5" stroke="#666" stroke-width="0.7" fill="none"/>
<line x1="104" y1="221.4" x2="272" y2="221.4" stroke="#555" stroke-width="1"/>
<path d="M662.2,143.6 L765.7,202.5 L898,204.8 L983,232.4 L650,232.4" fill="none" stroke="#6a6a6a" stroke-width="0.8"/>
<path d="M765.7,202.5 L761.5,208.5" fill="none" stroke="#888" stroke-width="0.7"/>
<line x1="648" y1="208.9" x2="905" y2="208.9" stroke="#b4b4b4" stroke-width="1.7"/>
<line x1="650" y1="221.6" x2="1082" y2="221.6" stroke="#666" stroke-width="0.9" stroke-dasharray="40,6,6,6"/>
<line x1="650" y1="244.4" x2="948" y2="244.4" stroke="#b4b4b4" stroke-width="1.7"/>
<path d="M931.6,233.4 Q942,237.5 948.4,244.6 L1005,254" fill="none" stroke="#666" stroke-width="0.8"/>
<path d="M1055.4,254.5 Q1068,236 1084,222.5" fill="none" stroke="#555" stroke-width="0.8"/>
<path d="M1073,254 L1088,223" fill="none" stroke="#666" stroke-width="0.6"/>
<path d="M661.6,143.5 C650,152 646,160 647.5,172 C649,185 642,200 644,219 C646,235 652,245 655.7,254" fill="none" stroke="#777" stroke-width="0.9"/>
<path d="M655,143.5 C645,150 641,160 642.5,172 C644,185 638,200 640,219 C642,235 646,245 649,254" fill="none" stroke="#999" stroke-width="0.7"/>
<ellipse cx="603.5" cy="256.8" rx="14" ry="3" fill="none" stroke="#888" stroke-width="0.8"/>
<path d="M597,259 L597,269 M610,259 L610,269 M603.5,250 L603.5,277" stroke="#888" stroke-width="0.8" fill="none"/>
<path d="M578,269 L588,256 M600,269 L612,255 M618,269 L630,255" stroke="#666" stroke-width="0.7"/>
<g stroke="#1f9ce0" stroke-width="2" fill="none" stroke-linecap="round">
<path d="M213,166.5 L257.8,196.5 M218,166 Q214,163.5 212.5,166.3"/>
<path d="M220,171.5 L222,168 M232,179.5 L234,176 M244,187.5 L246,184 M253,193.5 L255,190"/>
<path d="M257.8,196.5 L269,211 L257.8,211 Z M257.8,196.5 L264,190"/>
<path d="M213.5,276 L256.5,246.5 L268.4,232.7 M256.5,232.5 L256.5,246.5 M256.5,232.7 L270,232.7"/>
<path d="M216.4,274.7 Q250,258 269.7,240"/>
</g>
<g fill="none" stroke-width="2" stroke-linejoin="round">
<path d="M145,245.5 L125.6,245.5 L125.6,412" stroke="#8a1547"/>
<path d="M288,246.4 L376.8,246.4 L376.8,412.5" stroke="#1f9ce0"/>
<path d="M416.6,266.7 L499.3,266.7 L619.85,348.2 L619.85,412.5" stroke="#63a843"/>
<path d="M517.2,102 L517.2,168 M520,172.1 L666.6,172.1 L874.8,341.9 L874.8,411.5" stroke="#f9b512"/>
</g>
<circle cx="145" cy="245.5" r="7.4" fill="#8a1547"/>
<circle cx="288" cy="246" r="7.2" fill="#1f9ce0"/>
<circle cx="416.6" cy="266.4" r="7.3" fill="#63a843"/>
<circle cx="520.6" cy="172.1" r="8.2" fill="#f9b512"/>
<rect x="509.4" y="165.1" width="5" height="12" fill="#f9b512"/>
<rect x="467.2" y="57.6" width="270" height="44.2" fill="#fff" stroke="#f9b512" stroke-width="1.8"/>
<rect x="125.2" y="412" width="7.4" height="76" fill="#8a1547"/>
<rect x="375.8" y="412" width="7" height="76" fill="#1f9ce0"/>
<rect x="618.1" y="412.1" width="9" height="75.8" fill="#63a843"/>
<rect x="874" y="411.1" width="9" height="77.5" fill="#f9b512"/>
<rect x="100.4" y="715" width="1010" height="2" fill="#acacac"/>
<g transform="translate(852.1,85.9)"><circle cx="12.2" cy="-9.4" r="10.1" fill="#000"/><circle cx="12.2" cy="-9.4" r="2.3" fill="none" stroke="#fff" stroke-width="1"/><path d="M4.2,-18.6 A12.3,12.3 0 0 0 15.3,2.3" fill="none" stroke="#fff" stroke-width="2.6"/><path d="M4.2,-18.6 A12.6,12.6 0 0 0 15.3,2.6" fill="none" stroke="#000" stroke-width="0.9"/><path d="M-12.8,-14.6 L-0.4,-3.6" stroke="#000" stroke-width="6.2"/><path d="M-15.6,-17.2 L-12.5,-14.6" stroke="#000" stroke-width="2.8"/><g transform="rotate(-38 -5 4.2)"><rect x="-15.5" y="-0.6" width="21" height="9.6" rx="4.6" fill="#fff" stroke="#000" stroke-width="1.8"/></g><path d="M-9.6,9.3 L-8.2,3.2 M-6.8,8.2 L-5.2,2.0 M-4.0,6.8 L-2.4,1.0" stroke="#000" stroke-width="1.3"/><path d="M-15.8,11.6 L-13,9.4" stroke="#000" stroke-width="3.6"/><path d="M-15.5,12 L-19,15.2" stroke="#000" stroke-width="1.1"/><circle cx="0" cy="0" r="29.5" fill="none" stroke="#000" stroke-width="2"/><line x1="-18.2" y1="-22.9" x2="18.7" y2="21.8" stroke="#000" stroke-width="1.7"/></g>
<g transform="translate(927.0,85.9)"><rect x="-22.8" y="-11.6" width="5.6" height="6.5" rx="2.6" fill="#000"/><rect x="-16.3" y="-10.9" width="2.2" height="5" fill="#000"/><path d="M-13.4,-10.9 L-10.4,-10.9 Q-9.5,-14.3 -4,-14.3 L22.6,-14.3 L20.3,-9.6 L20.1,14 Q19.8,17.5 19,19.8 L12.4,19.6 L12.9,6 Q12.9,0 8,-0.6 L1,-1.4 Q-3,-1.6 -6,-3.5 L-9.4,-5.4 L-13.4,-5.4 Z" fill="#000"/><path d="M-5,-8.2 L0.3,-10.4 L0.3,-5.5 Z" fill="#fff"/><path d="M10,-8.8 L10.8,-4.4 M13,-9 L13.8,-4.6 M15.8,-9 L16.6,-4.6" stroke="#fff" stroke-width="0.8"/><path d="M13.6,3.5 L13.8,6.5 M17.4,6.2 L18.6,6.2" stroke="#fff" stroke-width="0.8"/><circle cx="0" cy="0" r="29.5" fill="none" stroke="#000" stroke-width="2"/><line x1="-18.2" y1="-22.9" x2="18.7" y2="21.8" stroke="#000" stroke-width="1.7"/></g>
<g transform="translate(1002.0,85.9)"><rect x="-25.3" y="-9.5" width="10" height="2.2" rx="1.1" fill="#000"/><circle cx="-11.6" cy="-8.5" r="3.6" fill="#000"/><path d="M-7.6,-12.9 L18,-12.9 Q19.6,-12.9 19.6,-11.3 L19.6,-10.1 L16.6,-10.1 L16.6,8.6 L6.1,8.6 L6.1,-0.6 L4,-3.3 L-7.6,-3.3 Z" fill="#000"/><rect x="8.7" y="-10.9" width="4.3" height="3.3" fill="#fff"/><line x1="8.7" y1="-9.3" x2="13" y2="-9.3" stroke="#000" stroke-width="0.6"/><path d="M6.1,1.6 L7.6,1.6 L7.6,4.4" fill="none" stroke="#fff" stroke-width="0.8"/><rect x="4" y="8.4" width="15.7" height="10.5" rx="1.6" fill="#000"/><line x1="4" y1="12.8" x2="19.7" y2="12.8" stroke="#fff" stroke-width="0.7"/><circle cx="0" cy="0" r="29.5" fill="none" stroke="#000" stroke-width="2"/><line x1="-18.2" y1="-22.9" x2="18.7" y2="21.8" stroke="#000" stroke-width="1.7"/></g>
<g transform="translate(1078.2,85.9)"><path d="M-26.3,-6.2 L-25,-8.9 L-4.5,-9.3 L-4.5,-5.2 L-6,-5.1 L-7,-4.4 L-8,-5.1 L-9.5,-4.4 L-10.5,-5.1 L-12,-4.4 L-13,-5.1 L-14.5,-4.4 L-15.5,-5.1 L-17,-4.4 L-18,-5.1 L-19.5,-4.4 L-20.5,-5.1 L-22,-4.4 L-23,-5.1 L-24.5,-4.6 Z" fill="#000"/><ellipse cx="-3.2" cy="-6" rx="2.6" ry="6.6" fill="#000"/><path d="M-1.8,-11 C6,-10.8 16,-9.8 26.3,-9.4 L25.8,-7.6 C22.5,-2.2 15,1.4 6,1.2 L-1.8,1 Z" fill="#000"/><path d="M20.8,-6.8 L23.4,-6.8 L21,-1.6 L18.8,-1.4 Z" fill="#fff"/><path d="M-11.5,-4.8 L-9.8,1.2 L-4.4,1.2 L-3.6,-2" fill="none" stroke="#000" stroke-width="1.1"/><path d="M19.3,0.5 C20.3,4.5 19.2,7.4 15.5,8.6 C11.5,9.8 8,8.4 4.5,8 C0,7.5 -5.5,8.5 -6.2,12.5 C-6.6,15 -5.8,16.8 -4.8,18.3" fill="none" stroke="#000" stroke-width="1.4"/><circle cx="0" cy="0" r="29.5" fill="none" stroke="#000" stroke-width="2"/><line x1="-18.2" y1="-22.9" x2="18.7" y2="21.8" stroke="#000" stroke-width="1.7"/></g>
<defs><clipPath id="csc"><path d="M520.8,956.2 A98,98 0 0 1 714.3,956.2 L677.3,956.2 L677.3,986 L690.8,986 L690.8,1002 L680,1015 L656.5,1015 Q655.5,1019 657.4,1020 L657.4,1033 L577.8,1033 L577.8,1020 Q579.6,1019 578.6,1015 L556.1,1015 L544.4,1002 L544.4,986 L558.5,986 L558.5,956.2 Z"/></clipPath><clipPath id="plg"><path d="M578,1033 L578,969 Q578,961 586,961 L648,961 Q656,961 656,969 L656,1033 Z"/></clipPath></defs>
<g clip-path="url(#csc)"><path d="M262.5,860 L442.5,1040 M283.5,860 L463.5,1040 M304.5,860 L484.5,1040 M325.5,860 L505.5,1040 M346.5,860 L526.5,1040 M367.5,860 L547.5,1040 M388.5,860 L568.5,1040 M409.5,860 L589.5,1040 M430.5,860 L610.5,1040 M451.5,860 L631.5,1040 M472.5,860 L652.5,1040 M493.5,860 L673.5,1040 M514.5,860 L694.5,1040 M535.5,860 L715.5,1040 M556.5,860 L736.5,1040 M577.5,860 L757.5,1040 M598.5,860 L778.5,1040 M619.5,860 L799.5,1040 M640.5,860 L820.5,1040 M661.5,860 L841.5,1040 M682.5,860 L862.5,1040 M703.5,860 L883.5,1040 M724.5,860 L904.5,1040 M745.5,860 L925.5,1040 M766.5,860 L946.5,1040 M787.5,860 L967.5,1040 M808.5,860 L988.5,1040 M829.5,860 L1009.5,1040" stroke="#555" stroke-width="0.9" fill="none"/>
<rect x="577.6" y="934.5" width="79.6" height="100" fill="#fff"/>
</g>
<g clip-path="url(#plg)"><path d="M389.1,1040.0 L479.1,950.0 M410.1,1040.0 L500.1,950.0 M431.1,1040.0 L521.1,950.0 M452.1,1040.0 L542.1,950.0 M473.1,1040.0 L563.1,950.0 M494.1,1040.0 L584.1,950.0 M515.1,1040.0 L605.1,950.0 M536.1,1040.0 L626.1,950.0 M557.1,1040.0 L647.1,950.0 M578.1,1040.0 L668.1,950.0 M599.1,1040.0 L689.1,950.0 M620.1,1040.0 L710.1,950.0 M641.1,1040.0 L731.1,950.0 M662.1,1040.0 L752.1,950.0 M683.1,1040.0 L773.1,950.0 M704.1,1040.0 L794.1,950.0 M725.1,1040.0 L815.1,950.0 M746.1,1040.0 L836.1,950.0" stroke="#666" stroke-width="0.85" fill="none"/></g>
<path d="M578,1033 L578,969 Q578,961 586,961 L648,961 Q656,961 656,969 L656,1033 Z" fill="none" stroke="#888" stroke-width="0.8"/>
<path d="M597.4,962 L637.6,962 L637.6,1012 Q637.6,1019.5 630,1021 L622,1022.5 L622,1033 L612,1033 L612,1022.5 L605,1021 Q597.4,1019.5 597.4,1012 Z" fill="#fff" stroke="#888" stroke-width="0.8"/>
<path d="M577.6,1011 L577.6,937 Q577.6,934.5 580,934.5 L655,934.5 Q657.2,934.5 657.2,937 L657.2,1011 M578,939.6 L657,939.6 M580.5,935 L580.5,939.5 M654.5,935 L654.5,939.5" fill="none" stroke="#8a8a8a" stroke-width="0.9"/>
<path d="M600.7,950.0 L634.3,942.5 M600.7,965.6 L634.3,957.6 M600.7,980.3 L634.3,972.7 M600.7,995.4 L634.3,987.9 M600.7,1010.5 L634.3,1003.0 M600.7,1016.7 L634.3,1015.3" fill="none" stroke="#7a7a7a" stroke-width="3.6" stroke-linecap="round"/>
<path d="M600.7,950.0 L634.3,942.5 M600.7,965.6 L634.3,957.6 M600.7,980.3 L634.3,972.7 M600.7,995.4 L634.3,987.9 M600.7,1010.5 L634.3,1003.0 M600.7,1016.7 L634.3,1015.3" fill="none" stroke="#fff" stroke-width="1.7" stroke-linecap="round"/>
<circle cx="600.7" cy="950.0" r="1.9" fill="#fff" stroke="#777" stroke-width="0.9"/><circle cx="634.3" cy="942.5" r="1.9" fill="#fff" stroke="#777" stroke-width="0.9"/>
<circle cx="600.7" cy="965.6" r="1.9" fill="#fff" stroke="#777" stroke-width="0.9"/><circle cx="634.3" cy="957.6" r="1.9" fill="#fff" stroke="#777" stroke-width="0.9"/>
<circle cx="600.7" cy="980.3" r="1.9" fill="#fff" stroke="#777" stroke-width="0.9"/><circle cx="634.3" cy="972.7" r="1.9" fill="#fff" stroke="#777" stroke-width="0.9"/>
<circle cx="600.7" cy="995.4" r="1.9" fill="#fff" stroke="#777" stroke-width="0.9"/><circle cx="634.3" cy="987.9" r="1.9" fill="#fff" stroke="#777" stroke-width="0.9"/>
<circle cx="600.7" cy="1010.5" r="1.9" fill="#fff" stroke="#777" stroke-width="0.9"/><circle cx="634.3" cy="1003.0" r="1.9" fill="#fff" stroke="#777" stroke-width="0.9"/>
<circle cx="600.7" cy="1016.7" r="1.9" fill="#fff" stroke="#777" stroke-width="0.9"/><circle cx="634.3" cy="1015.3" r="1.9" fill="#fff" stroke="#777" stroke-width="0.9"/>
<path d="M520.8,956.2 A98,98 0 0 1 714.3,956.2 L677.3,956.2 L677.3,986 L690.8,986 L690.8,1002 L680,1015 L656.5,1015 Q655.5,1019 657.4,1020 L657.4,1033 L577.8,1033 L577.8,1020 Q579.6,1019 578.6,1015 L556.1,1015 L544.4,1002 L544.4,986 L558.5,986 L558.5,956.2 Z" fill="none" stroke="#1a1a1a" stroke-width="1.8" stroke-linejoin="round"/>
<line x1="617.4" y1="862" x2="617.4" y2="1045" stroke="#666" stroke-width="0.8"/>
<line x1="508" y1="972.3" x2="727" y2="972.3" stroke="#666" stroke-width="0.8" stroke-dasharray="60,5,4,5,60,5,4,5,200"/>
<circle cx="522.5" cy="951.3" r="44.6" fill="none" stroke="#f9b512" stroke-width="1.6"/>
<path d="M335,864.4 L422.4,864.4 L500.2,912.9" fill="none" stroke="#7d7d7d" stroke-width="1.4"/>
<rect x="334.5" y="863.7" width="59.2" height="5.1" fill="#858585"/>
<path d="M666,911.9 L739.5,865.3 L800,865.3" fill="none" stroke="#7d7d7d" stroke-width="1.4"/>
<rect x="779" y="864.2" width="59" height="4.5" fill="#858585"/>
<circle cx="666.4" cy="911.6" r="6.9" fill="#f9b512"/>
<line x1="112.5" y1="865.2" x2="302.7" y2="865.2" stroke="#f9b512" stroke-width="5.4" stroke-linecap="round"/>
<line x1="882.5" y1="865.2" x2="1076.5" y2="865.2" stroke="#f9b512" stroke-width="5" stroke-linecap="round"/>
<text x="509.71" y="87.60" font-size="25.00" fill="#000" font-weight="normal" textLength="184.01" lengthAdjust="spacingAndGlyphs">Relocker system</text>
<text x="154.03" y="451.70" font-size="25.00" fill="#000" font-weight="normal" textLength="117.96" lengthAdjust="spacingAndGlyphs">Механизм</text>
<text x="154.10" y="476.60" font-size="25.00" fill="#000" font-weight="normal" textLength="141.16" lengthAdjust="spacingAndGlyphs">секретности</text>
<text x="409.10" y="451.60" font-size="25.00" fill="#000" font-weight="normal" textLength="53.45" lengthAdjust="spacingAndGlyphs">Диск</text>
<text x="409.10" y="476.50" font-size="25.00" fill="#000" font-weight="normal" textLength="98.80" lengthAdjust="spacingAndGlyphs">ловушка</text>
<text x="646.88" y="451.60" font-size="25.00" fill="#000" font-weight="normal" textLength="147.83" lengthAdjust="spacingAndGlyphs">Продольные</text>
<text x="647.90" y="476.60" font-size="25.00" fill="#000" font-weight="normal" textLength="94.97" lengthAdjust="spacingAndGlyphs">штифты</text>
<text x="902.89" y="451.60" font-size="25.00" fill="#000" font-weight="normal" textLength="98.93" lengthAdjust="spacingAndGlyphs">Relocker</text>
<text x="903.40" y="476.50" font-size="25.00" fill="#000" font-weight="normal" textLength="83.12" lengthAdjust="spacingAndGlyphs">System</text>
<text x="125.99" y="517.90" font-size="18.00" fill="#777" font-weight="normal" textLength="177.29" lengthAdjust="spacingAndGlyphs">Надёжный механизм</text>
<text x="126.00" y="542.90" font-size="18.00" fill="#777" font-weight="normal" textLength="190.67" lengthAdjust="spacingAndGlyphs">секретности CRYPTEX.</text>
<text x="125.70" y="567.90" font-size="18.00" fill="#777" font-weight="normal" textLength="129.70" lengthAdjust="spacingAndGlyphs">Более 260 млн.</text>
<text x="125.67" y="592.90" font-size="18.00" fill="#777" font-weight="normal" textLength="203.08" lengthAdjust="spacingAndGlyphs">комбинаций. Защита от</text>
<text x="126.00" y="617.90" font-size="18.00" fill="#777" font-weight="normal" textLength="169.34" lengthAdjust="spacingAndGlyphs">отмычек, бампинга,</text>
<text x="125.68" y="642.90" font-size="18.00" fill="#777" font-weight="normal" textLength="147.49" lengthAdjust="spacingAndGlyphs">высверливания и</text>
<text x="126.00" y="667.90" font-size="18.00" fill="#777" font-weight="normal" textLength="119.57" lengthAdjust="spacingAndGlyphs">сворачивания</text>
<text x="377.80" y="518.80" font-size="18.00" fill="#777" font-weight="normal" textLength="110.95" lengthAdjust="spacingAndGlyphs">Установлены</text>
<text x="377.80" y="543.80" font-size="18.00" fill="#777" font-weight="normal" textLength="142.11" lengthAdjust="spacingAndGlyphs">дополнительные</text>
<text x="377.00" y="568.80" font-size="18.00" fill="#777" font-weight="normal" textLength="141.91" lengthAdjust="spacingAndGlyphs">штифты, а также</text>
<text x="377.80" y="593.80" font-size="18.00" fill="#777" font-weight="normal" textLength="195.62" lengthAdjust="spacingAndGlyphs">увеличена длина диска</text>
<text x="378.00" y="618.80" font-size="18.00" fill="#777" font-weight="normal" textLength="72.98" lengthAdjust="spacingAndGlyphs">ловушки</text>
<text x="626.78" y="521.80" font-size="18.00" fill="#777" font-weight="normal" textLength="140.14" lengthAdjust="spacingAndGlyphs">Изменён способ</text>
<text x="626.80" y="546.80" font-size="18.00" fill="#777" font-weight="normal" textLength="181.69" lengthAdjust="spacingAndGlyphs">фиксации механизма</text>
<text x="626.80" y="571.80" font-size="18.00" fill="#777" font-weight="normal" textLength="139.97" lengthAdjust="spacingAndGlyphs">секретности. Он</text>
<text x="626.80" y="596.80" font-size="18.00" fill="#777" font-weight="normal" textLength="212.20" lengthAdjust="spacingAndGlyphs">держится на продольных</text>
<text x="626.29" y="621.80" font-size="18.00" fill="#777" font-weight="normal" textLength="154.98" lengthAdjust="spacingAndGlyphs">штифтах, доступ к</text>
<text x="626.28" y="646.80" font-size="18.00" fill="#777" font-weight="normal" textLength="203.92" lengthAdjust="spacingAndGlyphs">которым закрыт со всех</text>
<text x="626.80" y="671.80" font-size="18.00" fill="#777" font-weight="normal" textLength="59.68" lengthAdjust="spacingAndGlyphs">сторон</text>
<text x="878.87" y="519.90" font-size="18.00" fill="#777" font-weight="normal" textLength="123.22" lengthAdjust="spacingAndGlyphs">В конструкции</text>
<text x="878.48" y="544.90" font-size="18.00" fill="#777" font-weight="normal" textLength="195.29" lengthAdjust="spacingAndGlyphs">блокиратора добавлен</text>
<text x="878.47" y="569.90" font-size="18.00" fill="#777" font-weight="normal" textLength="111.83" lengthAdjust="spacingAndGlyphs">релокер, при</text>
<text x="878.47" y="594.90" font-size="18.00" fill="#777" font-weight="normal" textLength="133.31" lengthAdjust="spacingAndGlyphs">перепиливании</text>
<text x="878.47" y="619.90" font-size="18.00" fill="#777" font-weight="normal" textLength="200.11" lengthAdjust="spacingAndGlyphs">рассоединяющий ось и</text>
<text x="879.50" y="644.90" font-size="18.00" fill="#777" font-weight="normal" textLength="197.95" lengthAdjust="spacingAndGlyphs">защёлку, что оставляет</text>
<text x="879.50" y="669.90" font-size="18.00" fill="#777" font-weight="normal" textLength="209.88" lengthAdjust="spacingAndGlyphs">замок заблокированным</text>
<text x="219.00" y="778.90" font-size="28.00" fill="#000" font-weight="normal" textLength="88.77" lengthAdjust="spacingAndGlyphs">Теперь</text>
<text x="141.20" y="810.90" font-size="28.00" fill="#000" font-weight="normal" textLength="166.79" lengthAdjust="spacingAndGlyphs">увеличенный</text>
<text x="200.30" y="842.90" font-size="28.00" fill="#000" font-weight="normal" textLength="107.46" lengthAdjust="spacingAndGlyphs">диаметр</text>
<text x="884.90" y="779.80" font-size="28.00" fill="#000" font-weight="normal" textLength="130.57" lengthAdjust="spacingAndGlyphs">Твердость</text>
<text x="885.14" y="812.20" font-size="28.00" fill="#000" font-weight="normal" textLength="105.35" lengthAdjust="spacingAndGlyphs">металла</text>
<text x="884.53" y="844.30" font-size="28.00" fill="#000" font-weight="normal" textLength="105.01" lengthAdjust="spacingAndGlyphs">больше!</text>
<text x="177.07" y="928.50" font-size="29.00" fill="#000" font-weight="bold" textLength="130.13" lengthAdjust="spacingAndGlyphs" stroke="#000" stroke-width="1.10" stroke-linejoin="round">D 40 мм.</text>
<text x="882.25" y="923.70" font-size="29.00" fill="#000" font-weight="bold" textLength="108.74" lengthAdjust="spacingAndGlyphs" stroke="#000" stroke-width="1.10" stroke-linejoin="round">56 HRC</text>
<text x="91.60" y="983.40" font-size="18.00" fill="#111" font-weight="normal" textLength="214.52" lengthAdjust="spacingAndGlyphs">Особая форма корпуса</text>
<text x="73.01" y="1010.40" font-size="18.00" fill="#111" font-weight="normal" textLength="233.40" lengthAdjust="spacingAndGlyphs">позволяет закрыть «уши»</text>
<text x="102.70" y="1037.80" font-size="18.00" fill="#111" font-weight="normal" textLength="205.01" lengthAdjust="spacingAndGlyphs">муфты так, что доступ</text>
<text x="86.00" y="1064.60" font-size="18.00" fill="#111" font-weight="normal" textLength="221.06" lengthAdjust="spacingAndGlyphs">электроинструментом к</text>
<text x="145.57" y="1091.40" font-size="18.00" fill="#111" font-weight="normal" textLength="161.95" lengthAdjust="spacingAndGlyphs">ним невозможен.</text>
<text x="881.10" y="977.70" font-size="18.00" fill="#111" font-weight="normal" textLength="184.91" lengthAdjust="spacingAndGlyphs">Твёрдость металла.</text>
<text x="880.60" y="1004.50" font-size="18.00" fill="#111" font-weight="normal" textLength="153.72" lengthAdjust="spacingAndGlyphs">Новая объемная</text>
<text x="881.10" y="1031.60" font-size="18.00" fill="#111" font-weight="normal" textLength="187.62" lengthAdjust="spacingAndGlyphs">технология закалки.</text>
<text x="880.59" y="1059.70" font-size="18.00" fill="#111" font-weight="normal" textLength="231.33" lengthAdjust="spacingAndGlyphs">Невозможно высверлить</text>
<text x="880.60" y="1086.80" font-size="18.00" fill="#111" font-weight="normal" textLength="140.10" lengthAdjust="spacingAndGlyphs">или распилить.</text>
</svg></div></body></html>
